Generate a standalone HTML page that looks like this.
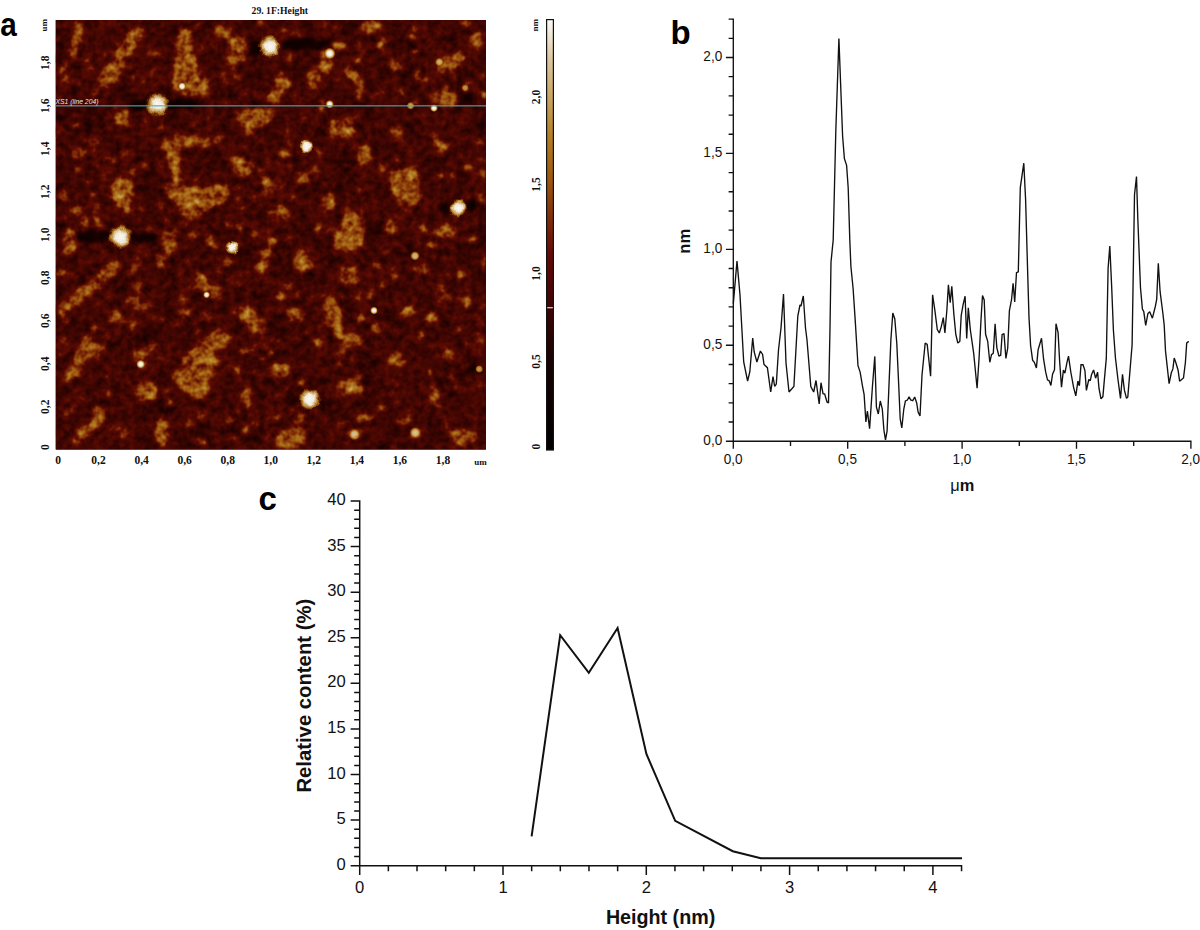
<!DOCTYPE html>
<html><head><meta charset="utf-8"><title>AFM figure</title>
<style>html,body{margin:0;padding:0;background:#fff;width:1200px;height:930px;overflow:hidden}svg{display:block}</style>
</head><body>
<svg width="1200" height="930" viewBox="0 0 1200 930">
<rect width="1200" height="930" fill="#fff"/>
<defs><clipPath id="afmclip"><rect x="55.5" y="20.0" width="430.5" height="429.7"/></clipPath><filter id="wob" x="-5%" y="-5%" width="110%" height="110%" color-interpolation-filters="sRGB"><feTurbulence type="fractalNoise" baseFrequency="0.09" numOctaves="2" seed="7" result="t"/><feDisplacementMap in="SourceGraphic" in2="t" scale="6" xChannelSelector="R" yChannelSelector="G" result="d"/><feGaussianBlur in="d" stdDeviation="2.0"/></filter><filter id="afm" x="0" y="0" width="100%" height="100%" filterUnits="objectBoundingBox" color-interpolation-filters="sRGB"><feTurbulence type="fractalNoise" baseFrequency="0.14" numOctaves="2" seed="11" result="n0"/><feGaussianBlur in="n0" stdDeviation="0.6" result="n"/><feColorMatrix in="n" type="matrix" values="1 0 0 0 0  1 0 0 0 0  1 0 0 0 0  0 0 0 0 1" result="ng"/><feComposite in="SourceGraphic" in2="ng" operator="arithmetic" k1="0.8" k2="0.6" k3="0.02" k4="-0.01" result="h0"/><feTurbulence type="fractalNoise" baseFrequency="0.045" numOctaves="2" seed="3" result="m0"/><feColorMatrix in="m0" type="matrix" values="1 0 0 0 0  1 0 0 0 0  1 0 0 0 0  0 0 0 0 1" result="mg"/><feComposite in="h0" in2="mg" operator="arithmetic" k1="0" k2="1" k3="0.18" k4="-0.09" result="h1"/><feGaussianBlur in="h1" stdDeviation="0.5" result="h"/><feComponentTransfer in="h"><feFuncR type="table" tableValues="0.000 0.011 0.023 0.034 0.045 0.056 0.068 0.079 0.090 0.117 0.143 0.169 0.196 0.222 0.250 0.277 0.305 0.333 0.361 0.400 0.439 0.478 0.512 0.545 0.578 0.609 0.632 0.656 0.679 0.703 0.725 0.748 0.770 0.793 0.814 0.836 0.858 0.886 0.919 0.952 0.984"/><feFuncG type="table" tableValues="0.000 0.001 0.002 0.003 0.004 0.005 0.006 0.007 0.008 0.010 0.012 0.015 0.017 0.019 0.024 0.028 0.033 0.038 0.043 0.081 0.119 0.157 0.201 0.247 0.293 0.337 0.376 0.416 0.455 0.494 0.535 0.575 0.615 0.655 0.693 0.731 0.769 0.817 0.871 0.926 0.980"/><feFuncB type="table" tableValues="0.000 0.000 0.001 0.001 0.002 0.002 0.003 0.003 0.004 0.005 0.005 0.006 0.007 0.008 0.008 0.009 0.010 0.011 0.012 0.015 0.019 0.023 0.032 0.043 0.054 0.066 0.082 0.097 0.113 0.139 0.204 0.270 0.336 0.402 0.468 0.534 0.601 0.684 0.777 0.871 0.965"/><feFuncA type="identity"/></feComponentTransfer></filter><radialGradient id="bdot"><stop offset="0" stop-color="#fffffc"/><stop offset="0.55" stop-color="#fbf8ee"/><stop offset="0.72" stop-color="#f0dca8"/><stop offset="0.86" stop-color="#c8922e" stop-opacity="0.75"/><stop offset="1" stop-color="#9a5010" stop-opacity="0"/></radialGradient><radialGradient id="sdot"><stop offset="0" stop-color="#fffbe8"/><stop offset="0.35" stop-color="#f8eccc"/><stop offset="0.6" stop-color="#e0b868"/><stop offset="0.8" stop-color="#c08028" stop-opacity="0.7"/><stop offset="1" stop-color="#9a5010" stop-opacity="0"/></radialGradient><radialGradient id="hdot"><stop offset="0" stop-color="#ffffff"/><stop offset="0.42" stop-color="#f7f7f7"/><stop offset="0.62" stop-color="#d6d6d6"/><stop offset="0.8" stop-color="#a8a8a8" stop-opacity="0.9"/><stop offset="1" stop-color="#737373" stop-opacity="0"/></radialGradient><filter id="dotf" x="0" y="0" width="100%" height="100%" filterUnits="userSpaceOnUse" color-interpolation-filters="sRGB"><feTurbulence type="fractalNoise" baseFrequency="0.15" numOctaves="2" seed="21" result="t"/><feDisplacementMap in="SourceGraphic" in2="t" scale="5" xChannelSelector="R" yChannelSelector="G" result="d"/><feGaussianBlur in="d" stdDeviation="0.5" result="b"/><feComponentTransfer in="b"><feFuncR type="table" tableValues="0.000 0.011 0.023 0.034 0.045 0.056 0.068 0.079 0.090 0.117 0.143 0.169 0.196 0.222 0.250 0.277 0.305 0.333 0.361 0.400 0.439 0.478 0.512 0.545 0.578 0.609 0.632 0.656 0.679 0.703 0.725 0.748 0.770 0.793 0.814 0.836 0.858 0.886 0.919 0.952 0.984"/><feFuncG type="table" tableValues="0.000 0.001 0.002 0.003 0.004 0.005 0.006 0.007 0.008 0.010 0.012 0.015 0.017 0.019 0.024 0.028 0.033 0.038 0.043 0.081 0.119 0.157 0.201 0.247 0.293 0.337 0.376 0.416 0.455 0.494 0.535 0.575 0.615 0.655 0.693 0.731 0.769 0.817 0.871 0.926 0.980"/><feFuncB type="table" tableValues="0.000 0.000 0.001 0.001 0.002 0.002 0.003 0.003 0.004 0.005 0.005 0.006 0.007 0.008 0.008 0.009 0.010 0.011 0.012 0.015 0.019 0.023 0.032 0.043 0.054 0.066 0.082 0.097 0.113 0.139 0.204 0.270 0.336 0.402 0.468 0.534 0.601 0.684 0.777 0.871 0.965"/></feComponentTransfer></filter><filter id="dotf2" x="0" y="0" width="100%" height="100%" filterUnits="userSpaceOnUse" color-interpolation-filters="sRGB"><feTurbulence type="fractalNoise" baseFrequency="0.15" numOctaves="1" seed="21" result="t"/><feDisplacementMap in="SourceGraphic" in2="t" scale="2" xChannelSelector="R" yChannelSelector="G" result="d"/><feGaussianBlur in="d" stdDeviation="0.6" result="b"/><feComponentTransfer in="b"><feFuncR type="table" tableValues="0.000 0.011 0.023 0.034 0.045 0.056 0.068 0.079 0.090 0.117 0.143 0.169 0.196 0.222 0.250 0.277 0.305 0.333 0.361 0.400 0.439 0.478 0.512 0.545 0.578 0.609 0.632 0.656 0.679 0.703 0.725 0.748 0.770 0.793 0.814 0.836 0.858 0.886 0.919 0.952 0.984"/><feFuncG type="table" tableValues="0.000 0.001 0.002 0.003 0.004 0.005 0.006 0.007 0.008 0.010 0.012 0.015 0.017 0.019 0.024 0.028 0.033 0.038 0.043 0.081 0.119 0.157 0.201 0.247 0.293 0.337 0.376 0.416 0.455 0.494 0.535 0.575 0.615 0.655 0.693 0.731 0.769 0.817 0.871 0.926 0.980"/><feFuncB type="table" tableValues="0.000 0.000 0.001 0.001 0.002 0.002 0.003 0.003 0.004 0.005 0.005 0.006 0.007 0.008 0.008 0.009 0.010 0.011 0.012 0.015 0.019 0.023 0.032 0.043 0.054 0.066 0.082 0.097 0.113 0.139 0.204 0.270 0.336 0.402 0.468 0.534 0.601 0.684 0.777 0.871 0.965"/></feComponentTransfer></filter><radialGradient id="dk"><stop offset="0" stop-color="#000" stop-opacity="1"/><stop offset="1" stop-color="#000" stop-opacity="0"/></radialGradient></defs><g clip-path="url(#afmclip)"><g filter="url(#afm)"><rect x="55.5" y="20.0" width="430.5" height="429.7" fill="#585858"/><g filter="url(#wob)"><circle cx="323.7" cy="338.7" r="2.2" fill="#979797"/><circle cx="374.0" cy="416.3" r="1.2" fill="#898989"/><circle cx="461.6" cy="298.9" r="2.3" fill="#7e7e7e"/><circle cx="257.4" cy="126.0" r="1.9" fill="#8c8c8c"/><circle cx="61.1" cy="113.1" r="1.5" fill="#969696"/><circle cx="385.1" cy="88.6" r="2.2" fill="#7f7f7f"/><circle cx="321.3" cy="74.4" r="1.2" fill="#959595"/><circle cx="145.7" cy="112.6" r="2.4" fill="#959595"/><circle cx="180.0" cy="433.1" r="1.8" fill="#8f8f8f"/><circle cx="143.7" cy="424.3" r="2.0" fill="#989898"/><circle cx="440.3" cy="148.4" r="1.6" fill="#7f7f7f"/><circle cx="118.2" cy="48.0" r="1.6" fill="#8d8d8d"/><circle cx="57.0" cy="311.3" r="1.6" fill="#848484"/><circle cx="407.9" cy="226.6" r="1.6" fill="#898989"/><circle cx="358.9" cy="44.5" r="2.4" fill="#7b7b7b"/><circle cx="378.3" cy="383.0" r="1.2" fill="#939393"/><circle cx="213.1" cy="268.6" r="1.2" fill="#7c7c7c"/><circle cx="133.4" cy="430.4" r="1.4" fill="#929292"/><circle cx="455.7" cy="424.8" r="1.6" fill="#858585"/><circle cx="281.4" cy="353.3" r="1.3" fill="#919191"/><circle cx="398.7" cy="389.4" r="1.2" fill="#979797"/><circle cx="94.8" cy="166.4" r="1.9" fill="#969696"/><circle cx="201.9" cy="417.1" r="1.9" fill="#848484"/><circle cx="191.9" cy="96.3" r="1.3" fill="#7f7f7f"/><circle cx="352.2" cy="448.3" r="1.4" fill="#7c7c7c"/><circle cx="480.3" cy="249.3" r="1.7" fill="#828282"/><circle cx="311.2" cy="375.1" r="1.7" fill="#878787"/><circle cx="79.5" cy="413.6" r="1.2" fill="#8a8a8a"/><circle cx="416.4" cy="76.1" r="2.1" fill="#979797"/><circle cx="326.9" cy="358.6" r="1.3" fill="#888888"/><circle cx="119.8" cy="383.0" r="1.6" fill="#888888"/><circle cx="485.7" cy="386.2" r="2.4" fill="#888888"/><circle cx="265.7" cy="333.5" r="1.8" fill="#838383"/><circle cx="229.3" cy="83.0" r="1.7" fill="#999999"/><circle cx="468.7" cy="289.4" r="1.8" fill="#858585"/><circle cx="93.9" cy="137.0" r="2.1" fill="#959595"/><circle cx="211.1" cy="357.8" r="2.1" fill="#909090"/><circle cx="341.4" cy="346.4" r="1.6" fill="#909090"/><circle cx="176.4" cy="228.7" r="2.1" fill="#909090"/><circle cx="182.0" cy="426.3" r="2.0" fill="#8c8c8c"/><circle cx="60.5" cy="255.0" r="1.5" fill="#8f8f8f"/><circle cx="254.8" cy="370.9" r="2.0" fill="#939393"/><circle cx="205.3" cy="296.8" r="2.1" fill="#949494"/><circle cx="206.2" cy="382.2" r="2.2" fill="#8f8f8f"/><circle cx="475.7" cy="431.0" r="1.8" fill="#8b8b8b"/><circle cx="127.0" cy="379.5" r="2.3" fill="#898989"/><circle cx="353.2" cy="329.2" r="2.1" fill="#808080"/><circle cx="391.4" cy="269.6" r="2.0" fill="#878787"/><circle cx="324.0" cy="352.9" r="2.0" fill="#909090"/><circle cx="67.4" cy="88.8" r="1.7" fill="#8e8e8e"/><circle cx="149.8" cy="314.8" r="2.0" fill="#7c7c7c"/><circle cx="258.5" cy="117.2" r="1.3" fill="#7e7e7e"/><circle cx="192.1" cy="98.0" r="1.4" fill="#7b7b7b"/><circle cx="255.8" cy="183.4" r="1.9" fill="#8c8c8c"/><circle cx="157.9" cy="408.1" r="1.2" fill="#878787"/><circle cx="175.4" cy="196.2" r="1.3" fill="#949494"/><circle cx="216.5" cy="35.5" r="1.9" fill="#7d7d7d"/><circle cx="290.2" cy="165.8" r="1.9" fill="#989898"/><circle cx="407.9" cy="200.1" r="2.2" fill="#8e8e8e"/><circle cx="214.5" cy="81.1" r="1.9" fill="#8c8c8c"/><circle cx="467.6" cy="435.9" r="1.9" fill="#858585"/><circle cx="440.1" cy="20.4" r="1.3" fill="#8c8c8c"/><circle cx="320.3" cy="80.5" r="2.0" fill="#969696"/><circle cx="217.3" cy="205.5" r="1.5" fill="#838383"/><circle cx="474.1" cy="183.2" r="2.4" fill="#969696"/><circle cx="312.0" cy="131.6" r="2.4" fill="#8a8a8a"/><circle cx="234.4" cy="157.1" r="2.4" fill="#898989"/><circle cx="178.8" cy="224.9" r="1.3" fill="#8d8d8d"/><circle cx="246.4" cy="145.9" r="2.1" fill="#949494"/><circle cx="61.2" cy="248.8" r="1.5" fill="#979797"/><circle cx="392.1" cy="125.6" r="1.5" fill="#7f7f7f"/><circle cx="481.2" cy="146.0" r="1.9" fill="#898989"/><circle cx="333.1" cy="279.5" r="2.1" fill="#7e7e7e"/><circle cx="382.9" cy="149.2" r="1.8" fill="#858585"/><circle cx="183.3" cy="247.7" r="1.8" fill="#858585"/><circle cx="376.2" cy="273.9" r="1.2" fill="#828282"/><circle cx="251.6" cy="413.9" r="2.3" fill="#8b8b8b"/><circle cx="61.8" cy="354.5" r="1.7" fill="#8c8c8c"/><circle cx="360.4" cy="291.7" r="1.8" fill="#969696"/><circle cx="221.4" cy="188.4" r="2.2" fill="#808080"/><circle cx="183.1" cy="376.7" r="1.3" fill="#949494"/><circle cx="354.5" cy="206.0" r="1.5" fill="#929292"/><circle cx="447.5" cy="81.3" r="1.8" fill="#8b8b8b"/><circle cx="269.8" cy="162.1" r="1.4" fill="#8c8c8c"/><circle cx="405.0" cy="49.4" r="1.5" fill="#939393"/><circle cx="396.3" cy="305.1" r="1.2" fill="#919191"/><circle cx="476.8" cy="449.0" r="2.0" fill="#7c7c7c"/><circle cx="418.0" cy="114.2" r="2.0" fill="#989898"/><circle cx="362.2" cy="77.8" r="1.6" fill="#969696"/><circle cx="120.0" cy="282.4" r="1.7" fill="#7f7f7f"/><circle cx="323.4" cy="38.7" r="1.3" fill="#868686"/><circle cx="86.5" cy="44.7" r="1.9" fill="#919191"/><circle cx="433.7" cy="77.7" r="1.7" fill="#848484"/><circle cx="313.9" cy="230.4" r="2.3" fill="#868686"/><circle cx="79.5" cy="319.6" r="1.4" fill="#8e8e8e"/><circle cx="273.3" cy="411.2" r="1.9" fill="#8d8d8d"/><circle cx="168.8" cy="257.1" r="1.5" fill="#919191"/><circle cx="278.1" cy="77.5" r="1.5" fill="#868686"/><circle cx="372.7" cy="97.1" r="2.1" fill="#8e8e8e"/><circle cx="92.2" cy="307.0" r="1.3" fill="#7e7e7e"/><circle cx="311.2" cy="122.5" r="2.3" fill="#898989"/><circle cx="194.7" cy="362.2" r="1.2" fill="#919191"/><circle cx="78.6" cy="84.8" r="2.3" fill="#8f8f8f"/><circle cx="151.5" cy="69.9" r="2.4" fill="#8f8f8f"/><circle cx="408.8" cy="80.1" r="1.9" fill="#858585"/><circle cx="156.7" cy="163.2" r="1.9" fill="#858585"/><circle cx="221.6" cy="78.6" r="2.2" fill="#8e8e8e"/><circle cx="401.8" cy="206.2" r="2.2" fill="#8a8a8a"/><circle cx="310.6" cy="266.3" r="2.1" fill="#878787"/><circle cx="97.3" cy="34.3" r="1.4" fill="#7c7c7c"/><circle cx="438.3" cy="226.7" r="2.1" fill="#7a7a7a"/><circle cx="257.9" cy="402.3" r="1.9" fill="#888888"/><circle cx="255.9" cy="62.9" r="1.4" fill="#7f7f7f"/><circle cx="216.8" cy="185.7" r="2.3" fill="#7f7f7f"/><circle cx="164.9" cy="139.2" r="1.4" fill="#838383"/><circle cx="156.7" cy="227.1" r="1.2" fill="#979797"/><circle cx="214.3" cy="423.0" r="2.0" fill="#8f8f8f"/><circle cx="258.6" cy="426.2" r="1.3" fill="#8f8f8f"/><circle cx="180.8" cy="309.8" r="2.1" fill="#7f7f7f"/><circle cx="142.0" cy="30.7" r="1.5" fill="#7d7d7d"/><circle cx="228.2" cy="438.4" r="1.6" fill="#848484"/><circle cx="257.0" cy="141.7" r="2.1" fill="#909090"/><circle cx="125.8" cy="123.4" r="2.0" fill="#979797"/><circle cx="333.5" cy="205.0" r="2.4" fill="#7b7b7b"/><circle cx="81.7" cy="354.8" r="1.7" fill="#7c7c7c"/><circle cx="291.6" cy="445.2" r="1.8" fill="#858585"/><circle cx="95.9" cy="50.6" r="2.3" fill="#898989"/><circle cx="458.3" cy="43.1" r="1.5" fill="#7c7c7c"/><circle cx="226.5" cy="45.8" r="1.5" fill="#878787"/><circle cx="187.2" cy="42.1" r="1.2" fill="#989898"/><circle cx="132.7" cy="238.6" r="1.7" fill="#8b8b8b"/><circle cx="91.8" cy="154.9" r="1.3" fill="#8b8b8b"/><circle cx="452.1" cy="277.1" r="2.2" fill="#818181"/><circle cx="63.0" cy="251.9" r="1.8" fill="#8c8c8c"/><circle cx="217.6" cy="288.6" r="2.1" fill="#969696"/><circle cx="187.9" cy="213.0" r="2.2" fill="#818181"/><circle cx="105.3" cy="153.9" r="1.3" fill="#929292"/><circle cx="408.3" cy="154.4" r="1.4" fill="#7d7d7d"/><circle cx="160.9" cy="56.2" r="1.7" fill="#8c8c8c"/><circle cx="161.1" cy="46.4" r="2.0" fill="#7c7c7c"/><circle cx="141.5" cy="142.9" r="1.6" fill="#7d7d7d"/><circle cx="236.6" cy="154.9" r="2.1" fill="#8b8b8b"/><circle cx="441.3" cy="301.1" r="2.1" fill="#8c8c8c"/><circle cx="245.9" cy="371.0" r="2.0" fill="#989898"/><circle cx="368.9" cy="321.3" r="1.5" fill="#939393"/><circle cx="220.1" cy="76.0" r="1.3" fill="#808080"/><circle cx="168.5" cy="310.4" r="1.5" fill="#7c7c7c"/><circle cx="384.3" cy="259.4" r="1.2" fill="#7c7c7c"/><circle cx="111.5" cy="173.5" r="2.2" fill="#979797"/><circle cx="319.0" cy="119.3" r="1.7" fill="#858585"/><circle cx="197.7" cy="25.3" r="1.9" fill="#949494"/><circle cx="368.4" cy="60.9" r="1.8" fill="#808080"/><circle cx="360.9" cy="211.7" r="2.3" fill="#939393"/><circle cx="106.4" cy="156.2" r="2.3" fill="#898989"/><circle cx="242.4" cy="209.7" r="2.1" fill="#979797"/><circle cx="284.8" cy="436.7" r="1.9" fill="#7e7e7e"/><circle cx="406.0" cy="200.2" r="1.3" fill="#989898"/><circle cx="69.7" cy="267.9" r="1.8" fill="#959595"/><circle cx="224.6" cy="112.7" r="1.5" fill="#818181"/><circle cx="297.6" cy="173.4" r="2.1" fill="#828282"/><circle cx="206.9" cy="126.7" r="2.4" fill="#949494"/><circle cx="421.4" cy="285.6" r="1.7" fill="#7f7f7f"/><circle cx="413.5" cy="230.6" r="1.2" fill="#808080"/><circle cx="98.0" cy="328.4" r="2.3" fill="#808080"/><circle cx="398.6" cy="159.2" r="2.0" fill="#959595"/><circle cx="323.7" cy="363.9" r="1.7" fill="#7b7b7b"/><circle cx="275.8" cy="272.1" r="1.4" fill="#868686"/><circle cx="192.1" cy="31.6" r="1.6" fill="#868686"/><circle cx="260.5" cy="322.2" r="1.7" fill="#989898"/><circle cx="406.6" cy="417.0" r="2.0" fill="#8f8f8f"/><circle cx="286.6" cy="363.2" r="1.6" fill="#8d8d8d"/><circle cx="348.0" cy="244.4" r="1.5" fill="#7d7d7d"/><circle cx="93.1" cy="172.9" r="1.9" fill="#929292"/><circle cx="363.1" cy="151.8" r="2.3" fill="#838383"/><circle cx="363.8" cy="51.0" r="2.1" fill="#8f8f8f"/><circle cx="467.5" cy="405.5" r="2.0" fill="#949494"/><circle cx="373.5" cy="282.5" r="1.5" fill="#8a8a8a"/><circle cx="441.3" cy="122.7" r="2.4" fill="#8b8b8b"/><circle cx="224.9" cy="21.3" r="1.7" fill="#808080"/><circle cx="336.7" cy="406.5" r="2.3" fill="#8d8d8d"/><circle cx="222.0" cy="66.8" r="2.0" fill="#8b8b8b"/><circle cx="363.4" cy="180.7" r="2.3" fill="#818181"/><circle cx="187.1" cy="135.0" r="1.9" fill="#969696"/><circle cx="127.6" cy="291.9" r="2.1" fill="#818181"/><circle cx="82.5" cy="263.2" r="2.2" fill="#959595"/><circle cx="368.9" cy="199.1" r="1.7" fill="#8b8b8b"/><circle cx="445.0" cy="149.9" r="1.5" fill="#8d8d8d"/><circle cx="471.6" cy="100.5" r="1.2" fill="#7e7e7e"/><circle cx="297.7" cy="279.3" r="1.4" fill="#808080"/><circle cx="311.4" cy="297.7" r="2.0" fill="#919191"/><circle cx="81.9" cy="228.3" r="2.2" fill="#989898"/><circle cx="192.6" cy="385.4" r="2.0" fill="#979797"/><circle cx="154.1" cy="319.4" r="2.2" fill="#898989"/><circle cx="98.9" cy="103.2" r="1.4" fill="#7d7d7d"/><circle cx="120.9" cy="284.6" r="1.3" fill="#929292"/><circle cx="372.4" cy="370.8" r="2.2" fill="#909090"/><circle cx="453.3" cy="431.2" r="2.0" fill="#989898"/><circle cx="100.0" cy="64.2" r="1.3" fill="#818181"/><circle cx="216.7" cy="217.1" r="2.0" fill="#919191"/><circle cx="91.6" cy="193.3" r="1.9" fill="#868686"/><circle cx="106.1" cy="276.6" r="1.6" fill="#8f8f8f"/><circle cx="268.8" cy="433.7" r="2.3" fill="#7d7d7d"/><circle cx="382.6" cy="329.9" r="1.6" fill="#7e7e7e"/><circle cx="261.7" cy="172.2" r="2.1" fill="#979797"/><circle cx="220.0" cy="144.9" r="1.8" fill="#909090"/><circle cx="395.2" cy="267.4" r="1.6" fill="#858585"/><circle cx="420.6" cy="243.1" r="1.3" fill="#878787"/><circle cx="157.9" cy="306.3" r="1.3" fill="#838383"/><circle cx="96.8" cy="225.2" r="2.4" fill="#8b8b8b"/><circle cx="221.8" cy="421.3" r="1.3" fill="#858585"/><circle cx="404.5" cy="22.2" r="2.1" fill="#858585"/><circle cx="62.6" cy="127.8" r="1.7" fill="#868686"/><circle cx="278.0" cy="42.8" r="1.5" fill="#989898"/><circle cx="246.1" cy="222.8" r="1.3" fill="#838383"/><circle cx="466.5" cy="315.2" r="1.8" fill="#7c7c7c"/><circle cx="224.6" cy="354.5" r="1.7" fill="#8d8d8d"/><circle cx="444.0" cy="297.2" r="2.0" fill="#7c7c7c"/><circle cx="65.8" cy="350.7" r="1.7" fill="#959595"/><circle cx="411.0" cy="413.3" r="1.7" fill="#999999"/><circle cx="381.1" cy="403.2" r="1.4" fill="#929292"/><circle cx="237.2" cy="437.7" r="2.4" fill="#818181"/><circle cx="236.9" cy="136.4" r="1.8" fill="#838383"/><circle cx="342.4" cy="73.0" r="1.4" fill="#888888"/><circle cx="87.3" cy="183.8" r="2.3" fill="#959595"/><circle cx="140.1" cy="27.9" r="2.2" fill="#989898"/><circle cx="313.3" cy="78.6" r="1.5" fill="#979797"/><circle cx="459.1" cy="33.4" r="1.4" fill="#888888"/><circle cx="170.3" cy="343.9" r="1.6" fill="#929292"/><circle cx="120.9" cy="242.7" r="2.4" fill="#909090"/><circle cx="94.3" cy="67.7" r="2.0" fill="#868686"/><circle cx="214.2" cy="225.3" r="1.9" fill="#989898"/><circle cx="159.2" cy="264.4" r="1.5" fill="#8b8b8b"/><circle cx="370.4" cy="77.4" r="1.8" fill="#909090"/><circle cx="59.0" cy="351.4" r="1.7" fill="#8a8a8a"/><circle cx="318.3" cy="360.7" r="1.3" fill="#8a8a8a"/><circle cx="72.0" cy="185.6" r="1.6" fill="#7b7b7b"/><circle cx="183.7" cy="213.4" r="2.0" fill="#979797"/><circle cx="215.0" cy="247.8" r="2.1" fill="#979797"/><circle cx="464.3" cy="444.6" r="1.6" fill="#7f7f7f"/><circle cx="456.7" cy="53.3" r="1.7" fill="#919191"/><circle cx="283.1" cy="187.0" r="2.3" fill="#848484"/><circle cx="293.0" cy="376.5" r="1.4" fill="#858585"/><circle cx="268.3" cy="263.2" r="1.4" fill="#888888"/><circle cx="81.3" cy="57.8" r="1.6" fill="#7f7f7f"/><circle cx="472.0" cy="133.1" r="1.5" fill="#929292"/><circle cx="374.6" cy="132.6" r="2.2" fill="#8e8e8e"/><circle cx="222.8" cy="290.2" r="1.5" fill="#828282"/><circle cx="432.8" cy="208.5" r="2.3" fill="#808080"/><circle cx="114.6" cy="42.3" r="2.1" fill="#8c8c8c"/><circle cx="59.7" cy="38.6" r="2.2" fill="#8a8a8a"/><circle cx="430.6" cy="37.1" r="1.9" fill="#7e7e7e"/><circle cx="365.9" cy="282.7" r="1.9" fill="#818181"/><circle cx="464.1" cy="67.7" r="1.3" fill="#8f8f8f"/><circle cx="95.5" cy="48.7" r="1.8" fill="#8e8e8e"/><circle cx="439.5" cy="329.8" r="1.3" fill="#8e8e8e"/><circle cx="418.7" cy="71.8" r="2.1" fill="#828282"/><circle cx="184.1" cy="20.6" r="2.1" fill="#8a8a8a"/><circle cx="443.8" cy="220.0" r="1.4" fill="#818181"/><circle cx="168.9" cy="426.8" r="1.4" fill="#7d7d7d"/><circle cx="207.4" cy="54.0" r="1.7" fill="#8d8d8d"/><circle cx="335.6" cy="95.1" r="1.4" fill="#898989"/><circle cx="351.3" cy="212.1" r="1.9" fill="#969696"/><circle cx="117.9" cy="135.1" r="1.8" fill="#8b8b8b"/><circle cx="443.0" cy="258.6" r="2.0" fill="#878787"/><circle cx="393.1" cy="379.2" r="1.6" fill="#7e7e7e"/><circle cx="167.1" cy="173.6" r="2.3" fill="#828282"/><circle cx="326.4" cy="295.3" r="2.3" fill="#7e7e7e"/><circle cx="386.9" cy="164.6" r="1.3" fill="#8e8e8e"/><circle cx="419.0" cy="270.3" r="1.3" fill="#989898"/><circle cx="220.9" cy="293.4" r="2.1" fill="#828282"/><circle cx="231.3" cy="161.5" r="1.3" fill="#7c7c7c"/><circle cx="364.1" cy="196.4" r="2.2" fill="#7c7c7c"/><circle cx="185.3" cy="97.4" r="2.3" fill="#939393"/><circle cx="441.4" cy="237.6" r="1.3" fill="#878787"/><circle cx="152.9" cy="31.6" r="1.9" fill="#838383"/><circle cx="101.9" cy="239.8" r="2.3" fill="#979797"/><circle cx="256.2" cy="64.2" r="2.1" fill="#7e7e7e"/><circle cx="286.9" cy="56.0" r="2.4" fill="#8b8b8b"/><circle cx="243.8" cy="137.0" r="1.9" fill="#989898"/><circle cx="239.7" cy="109.9" r="1.8" fill="#969696"/><circle cx="219.9" cy="292.4" r="2.3" fill="#848484"/><circle cx="404.6" cy="247.3" r="1.4" fill="#7c7c7c"/><circle cx="459.7" cy="220.2" r="1.7" fill="#969696"/><circle cx="302.6" cy="234.9" r="1.5" fill="#919191"/><circle cx="165.8" cy="222.2" r="2.1" fill="#8d8d8d"/><circle cx="113.3" cy="107.1" r="2.0" fill="#919191"/><circle cx="99.7" cy="448.6" r="1.4" fill="#808080"/><circle cx="94.1" cy="211.8" r="1.9" fill="#959595"/><circle cx="125.7" cy="320.2" r="1.3" fill="#8c8c8c"/><circle cx="163.9" cy="173.1" r="1.3" fill="#909090"/><circle cx="108.1" cy="348.4" r="1.6" fill="#8d8d8d"/><circle cx="330.6" cy="230.0" r="2.2" fill="#979797"/><circle cx="176.9" cy="163.4" r="2.3" fill="#7e7e7e"/><circle cx="236.3" cy="198.2" r="2.4" fill="#7e7e7e"/><circle cx="337.5" cy="345.3" r="2.1" fill="#7a7a7a"/><circle cx="461.7" cy="154.3" r="2.2" fill="#8f8f8f"/><circle cx="236.7" cy="379.9" r="2.0" fill="#858585"/><circle cx="370.6" cy="237.1" r="2.1" fill="#8d8d8d"/><circle cx="398.2" cy="88.5" r="1.8" fill="#7a7a7a"/><circle cx="395.9" cy="351.5" r="2.2" fill="#7c7c7c"/><circle cx="285.9" cy="225.7" r="1.3" fill="#818181"/><circle cx="475.0" cy="386.4" r="1.5" fill="#949494"/><circle cx="335.8" cy="185.4" r="2.0" fill="#818181"/><circle cx="173.4" cy="24.3" r="2.0" fill="#8c8c8c"/><circle cx="375.5" cy="236.5" r="1.7" fill="#848484"/><circle cx="372.1" cy="180.2" r="1.9" fill="#929292"/><circle cx="246.9" cy="314.8" r="1.3" fill="#828282"/><circle cx="417.4" cy="83.4" r="1.3" fill="#7b7b7b"/><circle cx="385.3" cy="65.7" r="1.7" fill="#888888"/><circle cx="401.2" cy="224.8" r="1.8" fill="#7b7b7b"/><circle cx="397.9" cy="349.8" r="1.9" fill="#949494"/><circle cx="319.9" cy="327.7" r="2.2" fill="#8d8d8d"/><circle cx="64.2" cy="400.1" r="2.4" fill="#818181"/><circle cx="83.9" cy="166.1" r="1.3" fill="#868686"/><circle cx="93.9" cy="114.6" r="1.2" fill="#888888"/><circle cx="184.7" cy="333.2" r="1.7" fill="#7f7f7f"/><circle cx="465.9" cy="404.4" r="2.0" fill="#818181"/><circle cx="228.8" cy="213.8" r="1.7" fill="#7b7b7b"/><circle cx="251.7" cy="349.9" r="2.0" fill="#959595"/><circle cx="349.5" cy="347.7" r="2.2" fill="#969696"/><circle cx="396.9" cy="198.8" r="2.0" fill="#8f8f8f"/><circle cx="435.5" cy="326.6" r="1.7" fill="#808080"/><circle cx="196.5" cy="127.6" r="2.0" fill="#929292"/><circle cx="138.2" cy="249.2" r="2.2" fill="#868686"/><circle cx="96.3" cy="280.2" r="1.6" fill="#7f7f7f"/><circle cx="179.5" cy="23.0" r="1.4" fill="#878787"/><circle cx="100.7" cy="22.6" r="1.9" fill="#989898"/><circle cx="414.5" cy="160.1" r="2.3" fill="#7d7d7d"/><circle cx="120.3" cy="22.9" r="1.3" fill="#8d8d8d"/><circle cx="381.4" cy="225.3" r="2.2" fill="#888888"/><circle cx="451.0" cy="281.3" r="1.8" fill="#808080"/><circle cx="239.1" cy="209.2" r="2.2" fill="#818181"/><circle cx="182.3" cy="370.9" r="1.3" fill="#8b8b8b"/><circle cx="150.0" cy="305.8" r="1.9" fill="#7d7d7d"/><circle cx="369.9" cy="195.0" r="1.6" fill="#959595"/><circle cx="390.8" cy="153.0" r="2.0" fill="#7e7e7e"/><circle cx="278.9" cy="55.5" r="2.0" fill="#969696"/><circle cx="329.4" cy="37.5" r="1.8" fill="#898989"/><circle cx="246.2" cy="85.0" r="1.5" fill="#888888"/><circle cx="86.1" cy="309.8" r="1.5" fill="#838383"/><circle cx="94.6" cy="150.0" r="2.3" fill="#838383"/><circle cx="96.8" cy="168.6" r="2.3" fill="#7d7d7d"/><circle cx="202.9" cy="109.8" r="2.0" fill="#898989"/><circle cx="97.8" cy="390.5" r="1.6" fill="#8f8f8f"/><circle cx="250.4" cy="394.6" r="1.3" fill="#818181"/><circle cx="178.5" cy="133.6" r="2.2" fill="#8a8a8a"/><circle cx="204.8" cy="237.8" r="2.2" fill="#8c8c8c"/><circle cx="249.8" cy="302.2" r="1.9" fill="#878787"/><circle cx="239.0" cy="76.6" r="1.7" fill="#959595"/><circle cx="187.2" cy="176.9" r="1.9" fill="#8c8c8c"/><circle cx="131.0" cy="211.6" r="2.1" fill="#7c7c7c"/><circle cx="102.3" cy="344.6" r="2.3" fill="#7c7c7c"/><circle cx="90.6" cy="289.2" r="1.5" fill="#8e8e8e"/><circle cx="70.2" cy="216.2" r="1.4" fill="#858585"/><circle cx="354.1" cy="239.2" r="2.2" fill="#949494"/><circle cx="322.2" cy="384.2" r="1.4" fill="#898989"/><circle cx="193.1" cy="288.6" r="1.3" fill="#959595"/><circle cx="215.0" cy="356.8" r="2.3" fill="#979797"/><circle cx="223.5" cy="388.2" r="2.4" fill="#7e7e7e"/><circle cx="377.3" cy="332.5" r="1.7" fill="#838383"/><circle cx="130.1" cy="196.9" r="2.3" fill="#878787"/><circle cx="165.4" cy="286.2" r="1.7" fill="#8d8d8d"/><circle cx="251.2" cy="143.1" r="1.2" fill="#939393"/><circle cx="339.2" cy="124.7" r="1.8" fill="#8c8c8c"/><circle cx="272.3" cy="407.1" r="2.1" fill="#848484"/><circle cx="201.3" cy="282.9" r="1.4" fill="#979797"/><circle cx="75.1" cy="234.6" r="1.5" fill="#8a8a8a"/><circle cx="75.1" cy="116.3" r="2.4" fill="#939393"/><circle cx="150.7" cy="216.0" r="1.2" fill="#7e7e7e"/><circle cx="138.1" cy="442.9" r="1.6" fill="#828282"/><circle cx="83.6" cy="67.2" r="2.4" fill="#919191"/><circle cx="451.7" cy="379.1" r="2.1" fill="#828282"/><circle cx="128.3" cy="136.0" r="1.3" fill="#808080"/><circle cx="365.4" cy="231.0" r="1.2" fill="#848484"/><circle cx="421.2" cy="385.7" r="2.1" fill="#919191"/><circle cx="448.0" cy="259.4" r="1.7" fill="#8c8c8c"/><circle cx="177.1" cy="35.7" r="1.5" fill="#888888"/><circle cx="107.2" cy="54.6" r="1.5" fill="#868686"/><circle cx="467.5" cy="229.3" r="2.2" fill="#919191"/><circle cx="310.5" cy="158.5" r="1.7" fill="#848484"/><circle cx="328.6" cy="387.4" r="2.1" fill="#838383"/><circle cx="119.9" cy="23.8" r="1.9" fill="#818181"/><circle cx="57.9" cy="149.8" r="1.5" fill="#818181"/><circle cx="341.5" cy="271.1" r="1.5" fill="#919191"/><circle cx="144.4" cy="415.9" r="1.3" fill="#8d8d8d"/><circle cx="359.0" cy="334.7" r="1.8" fill="#959595"/><circle cx="326.3" cy="316.8" r="1.3" fill="#808080"/><circle cx="256.0" cy="254.3" r="1.3" fill="#919191"/><circle cx="204.7" cy="224.2" r="1.8" fill="#949494"/><circle cx="185.6" cy="260.5" r="1.9" fill="#8e8e8e"/><circle cx="189.9" cy="139.9" r="1.8" fill="#8d8d8d"/><circle cx="333.0" cy="77.5" r="1.7" fill="#8c8c8c"/><circle cx="139.3" cy="63.9" r="2.3" fill="#7b7b7b"/><circle cx="270.2" cy="146.6" r="1.2" fill="#838383"/><circle cx="125.0" cy="192.0" r="2.3" fill="#7d7d7d"/><circle cx="206.9" cy="318.6" r="1.9" fill="#7b7b7b"/><circle cx="154.0" cy="140.8" r="2.3" fill="#888888"/><circle cx="166.4" cy="226.3" r="1.8" fill="#7f7f7f"/><circle cx="342.7" cy="329.8" r="1.8" fill="#8b8b8b"/><circle cx="387.2" cy="430.9" r="1.9" fill="#7c7c7c"/><circle cx="273.0" cy="304.6" r="1.6" fill="#8f8f8f"/><circle cx="213.8" cy="284.9" r="1.9" fill="#8f8f8f"/><circle cx="453.9" cy="324.1" r="2.1" fill="#909090"/><circle cx="154.8" cy="283.9" r="1.9" fill="#7c7c7c"/><circle cx="380.2" cy="117.4" r="1.8" fill="#8a8a8a"/><circle cx="366.4" cy="348.8" r="1.8" fill="#979797"/><circle cx="246.2" cy="263.4" r="2.4" fill="#848484"/><circle cx="362.9" cy="430.9" r="1.3" fill="#929292"/><circle cx="336.1" cy="251.9" r="2.1" fill="#959595"/><circle cx="118.6" cy="229.1" r="1.9" fill="#909090"/><circle cx="468.1" cy="365.0" r="2.2" fill="#7c7c7c"/><circle cx="239.0" cy="412.5" r="2.3" fill="#929292"/><circle cx="199.1" cy="350.8" r="1.8" fill="#8f8f8f"/><circle cx="329.9" cy="391.8" r="2.1" fill="#989898"/><circle cx="268.0" cy="232.1" r="2.0" fill="#8c8c8c"/><circle cx="76.6" cy="432.2" r="1.6" fill="#8a8a8a"/><circle cx="73.7" cy="101.8" r="2.3" fill="#838383"/><circle cx="184.1" cy="368.9" r="1.5" fill="#8f8f8f"/><circle cx="300.2" cy="405.2" r="1.8" fill="#848484"/><circle cx="167.0" cy="176.3" r="1.2" fill="#7e7e7e"/><circle cx="119.6" cy="155.2" r="2.1" fill="#979797"/><circle cx="208.0" cy="127.3" r="1.6" fill="#8e8e8e"/><circle cx="261.6" cy="70.5" r="1.8" fill="#838383"/><circle cx="117.5" cy="357.4" r="1.3" fill="#888888"/><circle cx="385.2" cy="253.3" r="2.2" fill="#848484"/><circle cx="462.9" cy="38.7" r="2.3" fill="#878787"/><circle cx="56.8" cy="131.5" r="2.4" fill="#909090"/><circle cx="372.9" cy="368.5" r="1.2" fill="#848484"/><circle cx="256.0" cy="410.7" r="2.3" fill="#7f7f7f"/><circle cx="480.6" cy="258.2" r="1.6" fill="#7d7d7d"/><circle cx="239.2" cy="243.7" r="1.7" fill="#848484"/><circle cx="463.5" cy="224.2" r="1.6" fill="#929292"/><circle cx="160.7" cy="201.7" r="1.3" fill="#828282"/><circle cx="484.7" cy="287.0" r="1.8" fill="#8f8f8f"/><circle cx="344.9" cy="244.0" r="1.6" fill="#7f7f7f"/><circle cx="68.2" cy="72.0" r="1.7" fill="#7b7b7b"/><circle cx="345.9" cy="164.9" r="1.5" fill="#848484"/><circle cx="267.7" cy="110.1" r="2.2" fill="#898989"/><circle cx="85.0" cy="56.6" r="2.3" fill="#8c8c8c"/><circle cx="180.9" cy="326.4" r="1.3" fill="#969696"/><circle cx="458.7" cy="305.5" r="1.3" fill="#878787"/><circle cx="415.8" cy="275.0" r="1.5" fill="#828282"/><circle cx="82.9" cy="244.2" r="1.4" fill="#888888"/><circle cx="441.0" cy="407.1" r="1.8" fill="#929292"/><circle cx="113.2" cy="427.3" r="2.2" fill="#898989"/><circle cx="436.9" cy="147.7" r="2.4" fill="#848484"/><circle cx="453.4" cy="379.7" r="2.3" fill="#919191"/><circle cx="87.1" cy="140.1" r="2.0" fill="#969696"/><circle cx="348.6" cy="36.8" r="1.6" fill="#858585"/><circle cx="129.2" cy="116.7" r="1.8" fill="#868686"/><circle cx="170.5" cy="197.1" r="2.3" fill="#8d8d8d"/><circle cx="379.2" cy="420.8" r="1.2" fill="#959595"/><circle cx="96.5" cy="104.3" r="2.1" fill="#919191"/><circle cx="320.2" cy="224.6" r="2.1" fill="#878787"/><circle cx="139.2" cy="114.3" r="1.3" fill="#7c7c7c"/><circle cx="465.3" cy="428.3" r="1.6" fill="#878787"/><circle cx="175.5" cy="355.7" r="1.8" fill="#808080"/><circle cx="436.1" cy="419.1" r="1.3" fill="#888888"/><circle cx="150.6" cy="294.6" r="1.6" fill="#848484"/><circle cx="185.7" cy="281.0" r="1.8" fill="#898989"/><circle cx="348.5" cy="223.4" r="2.3" fill="#888888"/><circle cx="396.3" cy="419.8" r="1.9" fill="#8c8c8c"/><circle cx="395.5" cy="325.9" r="1.4" fill="#878787"/><circle cx="123.0" cy="29.1" r="2.0" fill="#848484"/><circle cx="165.2" cy="31.2" r="1.2" fill="#8f8f8f"/><circle cx="209.6" cy="207.4" r="2.0" fill="#969696"/><circle cx="357.3" cy="114.2" r="2.4" fill="#808080"/><circle cx="305.5" cy="296.7" r="1.5" fill="#969696"/><circle cx="318.1" cy="325.1" r="1.4" fill="#949494"/><circle cx="179.2" cy="285.6" r="2.1" fill="#848484"/><circle cx="169.7" cy="162.0" r="2.4" fill="#8f8f8f"/><circle cx="258.4" cy="261.5" r="2.0" fill="#828282"/><circle cx="88.2" cy="66.9" r="1.9" fill="#8d8d8d"/><circle cx="476.5" cy="286.8" r="2.2" fill="#999999"/><circle cx="269.2" cy="201.2" r="1.8" fill="#868686"/><circle cx="382.7" cy="267.2" r="1.3" fill="#989898"/><circle cx="282.1" cy="341.7" r="1.9" fill="#8c8c8c"/><circle cx="303.5" cy="69.3" r="1.4" fill="#919191"/><circle cx="206.0" cy="75.3" r="2.2" fill="#919191"/><circle cx="384.3" cy="186.3" r="1.4" fill="#929292"/><circle cx="148.3" cy="307.1" r="2.0" fill="#838383"/><circle cx="56.4" cy="273.7" r="2.1" fill="#8c8c8c"/><circle cx="479.3" cy="118.2" r="2.1" fill="#888888"/><circle cx="305.3" cy="149.9" r="1.5" fill="#8b8b8b"/><circle cx="317.0" cy="410.8" r="1.9" fill="#8a8a8a"/><circle cx="335.7" cy="289.8" r="1.7" fill="#838383"/><circle cx="349.2" cy="186.2" r="1.2" fill="#808080"/><circle cx="210.0" cy="315.0" r="2.0" fill="#898989"/><circle cx="406.9" cy="160.3" r="1.6" fill="#919191"/><circle cx="347.9" cy="203.0" r="2.3" fill="#7b7b7b"/><circle cx="286.4" cy="388.8" r="2.3" fill="#808080"/><circle cx="403.0" cy="249.1" r="2.3" fill="#848484"/><circle cx="341.5" cy="295.8" r="2.4" fill="#858585"/><circle cx="223.2" cy="73.6" r="2.0" fill="#7d7d7d"/><circle cx="421.1" cy="82.8" r="1.4" fill="#979797"/><circle cx="270.1" cy="344.3" r="1.6" fill="#828282"/><circle cx="214.2" cy="442.3" r="1.4" fill="#969696"/><circle cx="435.6" cy="312.4" r="1.5" fill="#919191"/><circle cx="445.1" cy="274.8" r="1.5" fill="#8d8d8d"/><circle cx="467.3" cy="273.9" r="1.4" fill="#818181"/><circle cx="326.8" cy="40.6" r="1.2" fill="#868686"/><circle cx="166.3" cy="232.1" r="1.3" fill="#8c8c8c"/><circle cx="346.3" cy="156.2" r="1.9" fill="#8b8b8b"/><circle cx="395.2" cy="267.6" r="2.0" fill="#8c8c8c"/><circle cx="409.8" cy="61.5" r="1.3" fill="#959595"/><circle cx="414.6" cy="23.4" r="2.3" fill="#8d8d8d"/><circle cx="424.0" cy="321.3" r="1.7" fill="#7e7e7e"/><circle cx="384.7" cy="325.1" r="1.8" fill="#838383"/><circle cx="212.3" cy="422.2" r="1.8" fill="#818181"/><circle cx="480.1" cy="440.4" r="1.4" fill="#808080"/><circle cx="369.7" cy="186.2" r="1.8" fill="#8f8f8f"/><circle cx="173.1" cy="275.4" r="1.4" fill="#818181"/><circle cx="290.3" cy="203.8" r="2.3" fill="#7f7f7f"/><circle cx="449.9" cy="132.5" r="1.6" fill="#7e7e7e"/><circle cx="191.6" cy="441.4" r="1.6" fill="#949494"/><circle cx="475.8" cy="318.9" r="1.4" fill="#888888"/><circle cx="127.4" cy="127.3" r="1.6" fill="#7f7f7f"/><circle cx="348.1" cy="244.6" r="1.5" fill="#828282"/><circle cx="116.7" cy="69.1" r="1.7" fill="#7d7d7d"/><circle cx="280.5" cy="129.7" r="2.1" fill="#838383"/><circle cx="424.0" cy="426.2" r="2.3" fill="#818181"/><circle cx="455.4" cy="222.7" r="2.3" fill="#898989"/><circle cx="288.4" cy="131.2" r="2.1" fill="#868686"/><circle cx="436.0" cy="324.0" r="1.7" fill="#7b7b7b"/><circle cx="171.1" cy="199.3" r="1.6" fill="#8c8c8c"/><circle cx="57.8" cy="220.9" r="2.3" fill="#989898"/><circle cx="352.0" cy="315.0" r="1.9" fill="#999999"/><circle cx="395.7" cy="217.8" r="1.8" fill="#979797"/><circle cx="293.0" cy="277.1" r="1.6" fill="#8f8f8f"/><circle cx="265.8" cy="425.4" r="2.4" fill="#999999"/><circle cx="464.8" cy="38.7" r="1.3" fill="#858585"/><circle cx="411.4" cy="259.9" r="1.5" fill="#7d7d7d"/><circle cx="163.2" cy="74.7" r="1.4" fill="#919191"/><circle cx="138.7" cy="91.7" r="1.9" fill="#7e7e7e"/><circle cx="414.3" cy="299.4" r="2.3" fill="#919191"/><circle cx="370.0" cy="134.9" r="1.7" fill="#868686"/><circle cx="224.3" cy="412.0" r="1.7" fill="#939393"/><circle cx="327.0" cy="55.5" r="1.5" fill="#8c8c8c"/><circle cx="395.3" cy="120.2" r="1.5" fill="#868686"/><circle cx="253.1" cy="200.5" r="2.3" fill="#8d8d8d"/><circle cx="175.3" cy="167.9" r="1.8" fill="#7f7f7f"/><circle cx="224.2" cy="47.9" r="2.0" fill="#959595"/><circle cx="442.4" cy="276.6" r="1.7" fill="#8c8c8c"/><circle cx="294.7" cy="95.8" r="1.8" fill="#8a8a8a"/><circle cx="140.5" cy="210.3" r="2.2" fill="#8e8e8e"/><circle cx="197.2" cy="122.5" r="2.0" fill="#8b8b8b"/><circle cx="183.8" cy="222.4" r="1.7" fill="#8e8e8e"/><circle cx="433.6" cy="180.2" r="1.8" fill="#8c8c8c"/><circle cx="342.8" cy="124.6" r="1.5" fill="#979797"/><circle cx="118.1" cy="312.6" r="1.5" fill="#898989"/><circle cx="249.8" cy="122.7" r="1.4" fill="#989898"/><circle cx="72.1" cy="81.3" r="2.1" fill="#868686"/><circle cx="139.5" cy="353.6" r="2.4" fill="#818181"/><circle cx="359.8" cy="190.4" r="2.4" fill="#8d8d8d"/><circle cx="440.7" cy="305.0" r="1.4" fill="#888888"/><circle cx="359.2" cy="85.7" r="1.3" fill="#999999"/><circle cx="453.1" cy="299.6" r="1.3" fill="#909090"/><circle cx="481.2" cy="356.2" r="2.1" fill="#888888"/><circle cx="327.6" cy="418.1" r="1.8" fill="#7d7d7d"/><circle cx="118.0" cy="429.2" r="2.1" fill="#979797"/><circle cx="119.2" cy="65.3" r="2.0" fill="#888888"/><circle cx="254.8" cy="120.0" r="2.1" fill="#929292"/><circle cx="368.0" cy="204.7" r="1.8" fill="#878787"/><circle cx="255.8" cy="160.0" r="1.8" fill="#989898"/><circle cx="400.6" cy="78.1" r="2.0" fill="#939393"/><circle cx="203.9" cy="402.0" r="2.3" fill="#7d7d7d"/><circle cx="324.6" cy="183.6" r="1.8" fill="#8b8b8b"/><circle cx="425.6" cy="291.1" r="2.3" fill="#828282"/><circle cx="398.6" cy="188.3" r="1.4" fill="#939393"/><circle cx="304.0" cy="116.9" r="2.3" fill="#898989"/><circle cx="345.6" cy="443.4" r="1.6" fill="#8b8b8b"/><circle cx="290.7" cy="142.6" r="1.8" fill="#989898"/><circle cx="355.7" cy="134.0" r="2.0" fill="#8d8d8d"/><circle cx="214.2" cy="308.4" r="1.7" fill="#929292"/><circle cx="222.5" cy="374.1" r="1.6" fill="#808080"/><circle cx="197.3" cy="74.0" r="2.2" fill="#999999"/><circle cx="234.7" cy="123.2" r="2.3" fill="#949494"/><circle cx="160.7" cy="151.3" r="1.8" fill="#7e7e7e"/><circle cx="146.3" cy="190.8" r="1.3" fill="#7f7f7f"/><circle cx="315.8" cy="149.2" r="2.3" fill="#989898"/><circle cx="344.0" cy="138.1" r="2.1" fill="#858585"/><circle cx="430.0" cy="202.1" r="2.0" fill="#919191"/><circle cx="358.0" cy="343.4" r="1.6" fill="#7f7f7f"/><circle cx="214.1" cy="431.9" r="1.2" fill="#838383"/><circle cx="188.7" cy="209.2" r="2.2" fill="#808080"/><circle cx="100.4" cy="27.6" r="1.6" fill="#919191"/><circle cx="250.4" cy="297.6" r="1.8" fill="#858585"/><circle cx="230.9" cy="37.6" r="2.3" fill="#919191"/><circle cx="97.5" cy="107.2" r="2.1" fill="#8a8a8a"/><circle cx="377.8" cy="343.0" r="1.4" fill="#949494"/><circle cx="142.1" cy="79.4" r="2.1" fill="#939393"/><circle cx="185.8" cy="185.6" r="2.1" fill="#838383"/><circle cx="247.0" cy="446.4" r="1.4" fill="#979797"/><circle cx="437.5" cy="448.3" r="1.5" fill="#808080"/><circle cx="243.8" cy="93.5" r="2.3" fill="#8c8c8c"/><circle cx="417.9" cy="231.2" r="1.8" fill="#989898"/><circle cx="109.3" cy="116.9" r="2.2" fill="#8c8c8c"/><circle cx="392.2" cy="447.6" r="2.1" fill="#8d8d8d"/><circle cx="379.0" cy="248.7" r="1.5" fill="#848484"/><circle cx="453.6" cy="246.2" r="1.2" fill="#8e8e8e"/><circle cx="483.3" cy="289.0" r="1.8" fill="#888888"/><circle cx="327.0" cy="284.2" r="1.8" fill="#969696"/><circle cx="437.3" cy="356.1" r="2.1" fill="#909090"/><circle cx="140.5" cy="230.8" r="1.5" fill="#818181"/><circle cx="464.5" cy="119.2" r="2.2" fill="#949494"/><circle cx="229.7" cy="30.5" r="1.4" fill="#8e8e8e"/><circle cx="360.9" cy="172.5" r="1.9" fill="#7f7f7f"/><circle cx="338.7" cy="355.9" r="2.1" fill="#8c8c8c"/><circle cx="302.4" cy="20.9" r="1.5" fill="#878787"/><circle cx="86.7" cy="51.6" r="2.3" fill="#8f8f8f"/><circle cx="297.6" cy="316.3" r="2.2" fill="#8e8e8e"/><circle cx="239.3" cy="188.6" r="2.4" fill="#989898"/><circle cx="120.9" cy="371.6" r="2.0" fill="#858585"/><circle cx="354.5" cy="138.0" r="2.1" fill="#8c8c8c"/><circle cx="307.3" cy="44.3" r="2.3" fill="#989898"/><circle cx="383.1" cy="146.0" r="2.1" fill="#7e7e7e"/><circle cx="290.8" cy="168.4" r="1.8" fill="#838383"/><circle cx="86.0" cy="207.0" r="1.5" fill="#808080"/><circle cx="198.2" cy="73.5" r="1.2" fill="#989898"/><circle cx="79.3" cy="403.8" r="1.7" fill="#7e7e7e"/><circle cx="240.2" cy="237.9" r="1.3" fill="#8b8b8b"/><circle cx="58.7" cy="148.3" r="2.1" fill="#949494"/><circle cx="132.1" cy="194.8" r="2.3" fill="#848484"/><circle cx="106.3" cy="126.1" r="2.2" fill="#858585"/><circle cx="342.0" cy="423.0" r="1.9" fill="#808080"/><circle cx="262.5" cy="159.9" r="1.8" fill="#8d8d8d"/><circle cx="475.7" cy="315.9" r="1.8" fill="#939393"/><circle cx="273.8" cy="103.0" r="2.0" fill="#838383"/><circle cx="146.9" cy="187.1" r="1.8" fill="#7b7b7b"/><circle cx="210.8" cy="432.9" r="1.8" fill="#868686"/><circle cx="252.2" cy="320.1" r="1.8" fill="#878787"/><circle cx="305.4" cy="138.4" r="2.0" fill="#878787"/><circle cx="359.2" cy="169.6" r="2.0" fill="#808080"/><circle cx="264.4" cy="231.6" r="1.2" fill="#7e7e7e"/><circle cx="253.7" cy="348.8" r="2.2" fill="#949494"/><circle cx="402.5" cy="435.4" r="1.4" fill="#7f7f7f"/><circle cx="115.2" cy="360.6" r="1.4" fill="#848484"/><circle cx="115.1" cy="410.5" r="1.5" fill="#828282"/><circle cx="311.4" cy="322.1" r="1.2" fill="#8c8c8c"/><circle cx="283.6" cy="258.1" r="1.8" fill="#939393"/><circle cx="409.6" cy="389.9" r="1.6" fill="#7c7c7c"/><circle cx="258.1" cy="31.4" r="2.0" fill="#898989"/><circle cx="377.0" cy="378.1" r="2.1" fill="#909090"/><circle cx="198.8" cy="332.0" r="2.0" fill="#818181"/><circle cx="429.6" cy="223.1" r="1.8" fill="#808080"/><circle cx="413.3" cy="223.6" r="2.1" fill="#949494"/><circle cx="279.0" cy="271.5" r="1.8" fill="#828282"/><circle cx="399.5" cy="415.6" r="1.2" fill="#7b7b7b"/><circle cx="257.8" cy="54.3" r="1.7" fill="#858585"/><circle cx="159.2" cy="353.2" r="1.9" fill="#979797"/><circle cx="139.2" cy="183.5" r="1.9" fill="#929292"/><circle cx="239.7" cy="99.9" r="1.7" fill="#8c8c8c"/><circle cx="471.9" cy="299.8" r="2.2" fill="#949494"/><circle cx="240.0" cy="237.4" r="2.2" fill="#919191"/><circle cx="227.6" cy="101.1" r="2.1" fill="#838383"/><circle cx="169.5" cy="127.8" r="2.0" fill="#8e8e8e"/><circle cx="458.9" cy="273.3" r="1.8" fill="#959595"/><circle cx="115.2" cy="273.1" r="2.4" fill="#858585"/><circle cx="121.0" cy="68.9" r="1.2" fill="#919191"/><circle cx="233.1" cy="372.6" r="2.2" fill="#7b7b7b"/><circle cx="187.5" cy="133.4" r="1.5" fill="#7b7b7b"/><circle cx="165.3" cy="166.0" r="1.7" fill="#8b8b8b"/><circle cx="479.5" cy="66.5" r="1.4" fill="#969696"/><circle cx="179.4" cy="251.5" r="1.6" fill="#969696"/><circle cx="457.7" cy="265.0" r="1.3" fill="#868686"/><circle cx="358.6" cy="263.2" r="1.5" fill="#878787"/><circle cx="82.0" cy="193.4" r="2.2" fill="#868686"/><circle cx="256.2" cy="92.1" r="2.1" fill="#878787"/><circle cx="221.4" cy="352.3" r="1.6" fill="#7d7d7d"/><circle cx="331.9" cy="337.2" r="1.3" fill="#858585"/><circle cx="436.9" cy="238.7" r="1.7" fill="#7e7e7e"/><circle cx="179.6" cy="272.2" r="2.3" fill="#8f8f8f"/><circle cx="472.4" cy="195.1" r="1.3" fill="#858585"/><circle cx="213.2" cy="44.5" r="1.3" fill="#969696"/><circle cx="440.9" cy="77.1" r="1.3" fill="#989898"/><circle cx="127.3" cy="149.6" r="1.5" fill="#818181"/><circle cx="68.9" cy="218.5" r="2.1" fill="#7d7d7d"/><circle cx="267.1" cy="76.8" r="2.1" fill="#969696"/><circle cx="432.1" cy="249.3" r="1.4" fill="#909090"/><circle cx="85.5" cy="353.1" r="1.6" fill="#969696"/><circle cx="178.1" cy="338.1" r="1.8" fill="#828282"/><circle cx="267.0" cy="205.0" r="1.4" fill="#8b8b8b"/><circle cx="284.6" cy="320.8" r="1.6" fill="#8d8d8d"/><circle cx="140.8" cy="244.4" r="1.5" fill="#929292"/><circle cx="137.7" cy="145.0" r="1.3" fill="#848484"/><circle cx="288.5" cy="118.1" r="1.3" fill="#969696"/><circle cx="189.1" cy="112.8" r="1.7" fill="#949494"/><circle cx="376.9" cy="407.9" r="1.9" fill="#858585"/><circle cx="271.3" cy="45.1" r="2.0" fill="#949494"/><circle cx="449.7" cy="376.8" r="2.0" fill="#939393"/><circle cx="181.0" cy="261.5" r="1.4" fill="#979797"/><circle cx="276.0" cy="95.8" r="2.4" fill="#8d8d8d"/><circle cx="146.9" cy="383.4" r="2.0" fill="#8d8d8d"/><circle cx="433.4" cy="155.7" r="1.5" fill="#8c8c8c"/><circle cx="143.0" cy="320.3" r="1.8" fill="#818181"/><circle cx="109.2" cy="89.7" r="1.9" fill="#969696"/><circle cx="398.6" cy="384.5" r="1.9" fill="#939393"/><circle cx="197.7" cy="178.1" r="2.3" fill="#828282"/><circle cx="323.9" cy="263.9" r="1.3" fill="#8c8c8c"/><circle cx="398.7" cy="402.0" r="1.7" fill="#969696"/><circle cx="71.9" cy="409.6" r="2.0" fill="#939393"/><circle cx="248.3" cy="272.4" r="2.2" fill="#818181"/><circle cx="134.4" cy="343.6" r="2.3" fill="#818181"/><circle cx="290.9" cy="238.1" r="1.6" fill="#949494"/><circle cx="177.3" cy="355.0" r="1.7" fill="#7f7f7f"/><circle cx="469.7" cy="83.4" r="1.3" fill="#7b7b7b"/><circle cx="206.5" cy="31.5" r="1.4" fill="#979797"/><circle cx="165.0" cy="327.4" r="1.5" fill="#7b7b7b"/><circle cx="58.5" cy="72.4" r="2.3" fill="#888888"/><circle cx="163.0" cy="40.2" r="2.0" fill="#848484"/><circle cx="133.1" cy="207.8" r="2.1" fill="#858585"/><circle cx="297.1" cy="101.0" r="1.9" fill="#7c7c7c"/><circle cx="452.7" cy="418.9" r="1.9" fill="#898989"/><circle cx="226.5" cy="341.8" r="1.9" fill="#909090"/><circle cx="246.3" cy="191.9" r="2.1" fill="#808080"/><circle cx="202.7" cy="123.3" r="1.4" fill="#959595"/><circle cx="189.9" cy="336.6" r="1.3" fill="#979797"/><circle cx="257.3" cy="339.7" r="1.3" fill="#8d8d8d"/><circle cx="405.0" cy="144.2" r="1.3" fill="#868686"/><circle cx="386.7" cy="347.4" r="1.3" fill="#848484"/><circle cx="449.6" cy="144.0" r="1.3" fill="#959595"/><circle cx="408.4" cy="211.5" r="2.0" fill="#919191"/><circle cx="415.7" cy="101.3" r="2.1" fill="#979797"/><circle cx="395.1" cy="244.3" r="1.7" fill="#989898"/><circle cx="483.1" cy="365.8" r="1.8" fill="#969696"/><circle cx="431.9" cy="236.7" r="1.4" fill="#8d8d8d"/><circle cx="113.5" cy="163.9" r="1.9" fill="#8a8a8a"/><circle cx="332.8" cy="372.6" r="2.3" fill="#848484"/><circle cx="466.3" cy="158.6" r="1.6" fill="#929292"/><circle cx="475.6" cy="237.9" r="2.2" fill="#949494"/><circle cx="191.1" cy="285.3" r="2.3" fill="#7b7b7b"/><circle cx="108.9" cy="394.9" r="1.9" fill="#878787"/><circle cx="397.0" cy="210.7" r="1.4" fill="#858585"/><circle cx="382.9" cy="295.7" r="1.8" fill="#7b7b7b"/><circle cx="484.5" cy="53.9" r="1.5" fill="#939393"/><circle cx="459.2" cy="315.6" r="1.7" fill="#919191"/><circle cx="343.1" cy="268.5" r="2.1" fill="#8b8b8b"/><circle cx="287.2" cy="131.0" r="2.1" fill="#7e7e7e"/><circle cx="96.4" cy="290.5" r="1.3" fill="#959595"/><circle cx="138.5" cy="220.7" r="1.5" fill="#898989"/><circle cx="320.8" cy="104.6" r="1.9" fill="#989898"/><circle cx="119.9" cy="113.9" r="1.4" fill="#7e7e7e"/><circle cx="60.8" cy="432.0" r="2.4" fill="#7c7c7c"/><circle cx="414.2" cy="268.8" r="1.4" fill="#959595"/><circle cx="105.5" cy="295.1" r="2.0" fill="#909090"/><circle cx="157.4" cy="84.2" r="2.0" fill="#838383"/><circle cx="316.2" cy="337.8" r="1.2" fill="#919191"/><circle cx="476.9" cy="193.3" r="1.9" fill="#848484"/><circle cx="434.4" cy="115.5" r="1.3" fill="#8a8a8a"/><circle cx="246.8" cy="265.0" r="1.4" fill="#979797"/><circle cx="285.6" cy="187.1" r="2.1" fill="#7c7c7c"/><circle cx="452.0" cy="378.6" r="1.5" fill="#888888"/><circle cx="72.3" cy="360.6" r="2.4" fill="#8d8d8d"/><circle cx="476.7" cy="222.9" r="2.2" fill="#949494"/><circle cx="454.0" cy="217.5" r="1.8" fill="#7b7b7b"/><circle cx="465.0" cy="57.8" r="1.9" fill="#8d8d8d"/><circle cx="130.5" cy="170.6" r="1.6" fill="#7b7b7b"/><circle cx="227.7" cy="184.0" r="2.1" fill="#909090"/><circle cx="463.6" cy="394.2" r="1.5" fill="#8d8d8d"/><circle cx="353.7" cy="359.0" r="1.4" fill="#858585"/><circle cx="319.9" cy="155.4" r="2.3" fill="#878787"/><circle cx="360.2" cy="49.4" r="2.3" fill="#989898"/><circle cx="470.9" cy="166.6" r="2.2" fill="#989898"/><circle cx="101.6" cy="51.9" r="2.0" fill="#999999"/><circle cx="68.7" cy="380.0" r="2.0" fill="#898989"/><circle cx="116.9" cy="237.9" r="1.8" fill="#818181"/><circle cx="443.0" cy="337.9" r="1.4" fill="#8d8d8d"/><circle cx="313.0" cy="423.2" r="2.4" fill="#969696"/><circle cx="78.9" cy="201.0" r="1.4" fill="#919191"/><circle cx="91.0" cy="376.0" r="1.9" fill="#8e8e8e"/><circle cx="462.3" cy="393.4" r="2.1" fill="#8e8e8e"/><circle cx="290.9" cy="242.6" r="1.2" fill="#808080"/><circle cx="352.0" cy="198.3" r="1.7" fill="#949494"/><circle cx="221.8" cy="332.8" r="2.2" fill="#949494"/><circle cx="156.5" cy="281.1" r="1.8" fill="#8c8c8c"/><circle cx="92.7" cy="101.6" r="1.5" fill="#929292"/><circle cx="392.7" cy="184.5" r="1.9" fill="#888888"/><circle cx="286.8" cy="134.6" r="1.6" fill="#989898"/><circle cx="436.4" cy="72.1" r="1.3" fill="#959595"/><circle cx="246.4" cy="295.0" r="1.9" fill="#8d8d8d"/><circle cx="445.5" cy="86.0" r="2.2" fill="#828282"/><circle cx="88.2" cy="147.6" r="1.8" fill="#939393"/><circle cx="305.3" cy="436.8" r="1.4" fill="#868686"/><circle cx="302.5" cy="273.9" r="2.0" fill="#8a8a8a"/><circle cx="98.9" cy="356.0" r="2.2" fill="#7d7d7d"/><circle cx="405.5" cy="22.5" r="2.0" fill="#8d8d8d"/><circle cx="183.5" cy="58.5" r="1.5" fill="#8e8e8e"/><circle cx="285.3" cy="369.6" r="1.4" fill="#8d8d8d"/><circle cx="186.2" cy="38.3" r="1.4" fill="#7e7e7e"/><circle cx="124.1" cy="36.2" r="2.4" fill="#858585"/><circle cx="381.6" cy="201.4" r="1.8" fill="#828282"/><circle cx="462.1" cy="110.9" r="2.4" fill="#929292"/><circle cx="427.4" cy="61.8" r="2.4" fill="#8e8e8e"/><circle cx="304.9" cy="263.8" r="1.7" fill="#989898"/><circle cx="477.8" cy="429.2" r="1.4" fill="#8b8b8b"/><circle cx="357.0" cy="98.8" r="2.3" fill="#919191"/><circle cx="107.4" cy="147.5" r="2.0" fill="#959595"/><circle cx="485.2" cy="138.7" r="2.2" fill="#8c8c8c"/><circle cx="211.4" cy="123.2" r="1.3" fill="#7b7b7b"/><circle cx="240.7" cy="72.0" r="1.4" fill="#848484"/><circle cx="114.0" cy="106.7" r="1.5" fill="#989898"/><circle cx="238.0" cy="285.3" r="1.8" fill="#989898"/><circle cx="411.1" cy="418.1" r="2.2" fill="#919191"/><circle cx="432.7" cy="162.7" r="1.9" fill="#858585"/><circle cx="453.9" cy="135.1" r="2.4" fill="#828282"/><circle cx="201.8" cy="339.1" r="1.9" fill="#818181"/><circle cx="110.2" cy="396.4" r="1.4" fill="#8a8a8a"/><circle cx="416.0" cy="228.7" r="1.8" fill="#7f7f7f"/><circle cx="458.4" cy="278.5" r="2.0" fill="#868686"/><circle cx="361.9" cy="182.8" r="1.4" fill="#858585"/><circle cx="383.4" cy="391.2" r="1.8" fill="#8f8f8f"/><circle cx="457.8" cy="299.3" r="2.4" fill="#828282"/><circle cx="431.1" cy="342.6" r="1.9" fill="#8d8d8d"/><circle cx="127.8" cy="27.2" r="1.2" fill="#969696"/><circle cx="226.9" cy="278.6" r="1.7" fill="#959595"/><circle cx="372.8" cy="180.8" r="2.0" fill="#818181"/><circle cx="461.5" cy="88.8" r="2.3" fill="#8b8b8b"/><circle cx="119.0" cy="442.7" r="1.4" fill="#8f8f8f"/><circle cx="167.4" cy="77.5" r="2.1" fill="#969696"/><circle cx="439.5" cy="309.2" r="2.0" fill="#7f7f7f"/><circle cx="485.2" cy="160.8" r="2.0" fill="#7b7b7b"/><circle cx="191.7" cy="244.6" r="1.8" fill="#878787"/><circle cx="220.3" cy="28.2" r="2.0" fill="#858585"/><circle cx="104.0" cy="178.3" r="2.0" fill="#919191"/><circle cx="234.4" cy="69.9" r="2.0" fill="#8d8d8d"/><circle cx="263.7" cy="436.7" r="1.6" fill="#8a8a8a"/><circle cx="68.5" cy="77.1" r="1.4" fill="#808080"/><circle cx="130.7" cy="66.6" r="2.3" fill="#8c8c8c"/><circle cx="266.3" cy="261.4" r="1.5" fill="#959595"/><circle cx="372.3" cy="203.4" r="1.2" fill="#7a7a7a"/><circle cx="70.7" cy="331.9" r="1.2" fill="#888888"/><circle cx="278.7" cy="179.3" r="1.6" fill="#979797"/><circle cx="466.3" cy="344.4" r="1.8" fill="#989898"/><circle cx="357.7" cy="119.3" r="1.4" fill="#7f7f7f"/><circle cx="100.2" cy="187.5" r="1.9" fill="#818181"/><circle cx="90.6" cy="164.8" r="1.7" fill="#959595"/><circle cx="439.2" cy="373.1" r="1.5" fill="#949494"/><circle cx="176.4" cy="271.5" r="1.8" fill="#828282"/><circle cx="288.4" cy="133.1" r="2.2" fill="#828282"/><circle cx="392.0" cy="100.9" r="1.2" fill="#888888"/><circle cx="435.1" cy="292.9" r="1.5" fill="#8a8a8a"/><circle cx="198.1" cy="304.7" r="1.5" fill="#808080"/><circle cx="485.6" cy="36.7" r="1.4" fill="#848484"/><circle cx="198.6" cy="258.0" r="1.8" fill="#7f7f7f"/><circle cx="412.7" cy="324.8" r="1.4" fill="#808080"/><circle cx="103.7" cy="239.7" r="2.0" fill="#909090"/><circle cx="158.1" cy="391.9" r="2.3" fill="#898989"/><circle cx="107.1" cy="94.7" r="2.1" fill="#7c7c7c"/><circle cx="324.3" cy="327.8" r="1.2" fill="#7f7f7f"/><circle cx="159.2" cy="208.3" r="2.2" fill="#939393"/><circle cx="223.0" cy="25.1" r="1.8" fill="#808080"/><circle cx="180.0" cy="420.4" r="1.5" fill="#868686"/><circle cx="344.9" cy="420.7" r="1.3" fill="#8c8c8c"/><circle cx="340.5" cy="74.2" r="1.3" fill="#858585"/><circle cx="201.4" cy="320.1" r="2.4" fill="#8f8f8f"/><circle cx="240.5" cy="448.4" r="2.3" fill="#888888"/><circle cx="257.9" cy="242.4" r="1.3" fill="#8e8e8e"/><circle cx="362.2" cy="224.4" r="1.9" fill="#969696"/><circle cx="323.2" cy="316.0" r="2.3" fill="#919191"/><circle cx="252.6" cy="431.2" r="2.3" fill="#7d7d7d"/><circle cx="486.0" cy="91.6" r="2.3" fill="#8e8e8e"/><circle cx="391.7" cy="168.8" r="1.5" fill="#808080"/><circle cx="107.8" cy="69.0" r="1.4" fill="#939393"/><circle cx="287.1" cy="388.9" r="2.4" fill="#888888"/><circle cx="131.5" cy="405.2" r="1.3" fill="#8a8a8a"/><circle cx="419.2" cy="73.6" r="1.5" fill="#8e8e8e"/><circle cx="97.4" cy="391.8" r="2.1" fill="#8b8b8b"/><circle cx="390.2" cy="80.0" r="2.2" fill="#8b8b8b"/><circle cx="220.6" cy="369.8" r="1.7" fill="#7c7c7c"/><circle cx="356.2" cy="35.6" r="1.9" fill="#818181"/><circle cx="232.6" cy="200.2" r="2.0" fill="#8e8e8e"/><circle cx="207.0" cy="118.4" r="2.1" fill="#7c7c7c"/><circle cx="306.8" cy="332.4" r="2.0" fill="#7b7b7b"/><circle cx="91.0" cy="296.0" r="2.1" fill="#8e8e8e"/><circle cx="479.5" cy="320.9" r="1.7" fill="#989898"/><circle cx="157.8" cy="67.8" r="1.7" fill="#7b7b7b"/><circle cx="299.9" cy="249.4" r="1.4" fill="#8d8d8d"/><circle cx="257.6" cy="320.5" r="2.1" fill="#939393"/><circle cx="349.8" cy="62.8" r="1.9" fill="#8f8f8f"/><circle cx="139.6" cy="179.7" r="1.8" fill="#838383"/><circle cx="91.0" cy="142.8" r="1.7" fill="#929292"/><circle cx="479.9" cy="383.5" r="2.3" fill="#989898"/><circle cx="275.9" cy="285.9" r="1.2" fill="#909090"/><circle cx="415.5" cy="168.5" r="1.9" fill="#7d7d7d"/><circle cx="459.0" cy="204.2" r="1.8" fill="#818181"/><circle cx="430.3" cy="429.6" r="1.7" fill="#8a8a8a"/><circle cx="179.0" cy="322.0" r="1.9" fill="#949494"/><circle cx="63.1" cy="236.6" r="2.4" fill="#7b7b7b"/><circle cx="324.6" cy="181.6" r="1.3" fill="#848484"/><circle cx="470.0" cy="112.2" r="1.8" fill="#959595"/><circle cx="102.6" cy="29.6" r="1.9" fill="#8d8d8d"/><circle cx="71.7" cy="380.1" r="2.1" fill="#8d8d8d"/><circle cx="160.1" cy="416.8" r="1.5" fill="#999999"/><circle cx="292.8" cy="410.5" r="1.9" fill="#8d8d8d"/><circle cx="460.9" cy="208.0" r="1.6" fill="#989898"/><circle cx="483.5" cy="74.9" r="2.2" fill="#929292"/><circle cx="146.0" cy="120.3" r="1.3" fill="#949494"/><circle cx="90.4" cy="379.5" r="2.2" fill="#999999"/><circle cx="103.9" cy="368.2" r="1.3" fill="#7e7e7e"/><circle cx="419.7" cy="80.4" r="2.1" fill="#999999"/><polygon fill="#939393" points="76.8,21.6 83.8,23.1 80.7,38.7 78.4,51.2 73.7,57.4 68.3,54.3 70.6,43.4 73.7,32.5"/><polygon fill="#9c9c9c" points="129.8,29.4 142.3,27.8 144.6,37.1 136.1,44.9 128.3,55.9 123.6,65.2 117.4,77.7 106.5,87 97.1,85.5 100.2,76.1 108,65.2 114.2,54.3 120.5,44.9 125.2,35.6"/><polygon fill="#9c9c9c" points="179.7,29.4 190.6,29.4 192.2,43.4 195.3,60.5 200,71.5 200,94.8 192.2,98 179.7,94.8 171.9,85.5 173.5,71.5 178.2,55.9 175,43.4"/><polygon fill="#9c9c9c" points="215.1,26.2 224.5,26.2 232.3,37.1 244.8,38.7 249.5,48.1 244.8,57.4 238.5,66.8 229.2,65.2 224.5,55.9 229.2,46.5 222.9,37.1 216.7,32.5"/><polygon fill="#9c9c9c" points="279.1,71.5 286.9,77.7 294.7,80.8 290,88.6 282.2,94.8 280.6,104.2 265,104.2 266.6,93.3 272.8,85.5 276,77.7"/><polygon fill="#959595" points="235.4,110.9 249.5,108.9 260.4,107.3 272.8,110.4 276,119.8 266.6,124.5 254.1,129.1 251,135.4 244.8,132.3 243.2,122.9 235.4,119.8"/><polygon fill="#9c9c9c" points="345.1,69.9 356,68.3 360.7,76.1 363.8,85.5 368.5,88.6 363.8,93.3 360.7,101.1 357.6,99.5 356,85.5 349.8,79.2 345.1,76.1"/><polygon fill="#9c9c9c" points="438.7,60.5 451.1,54.3 462,51.2 466.7,55.9 460.5,62.1 454.3,69.9 443.3,73 437.1,66.8"/><polygon fill="#9c9c9c" points="430.9,133.8 438.7,132.3 443.3,140 449.6,149.4 444.9,155.6 438.7,154.1 434,144.7 429.3,138.5"/><polygon fill="#9c9c9c" points="120.5,176 131.4,180.7 134.5,193.2 129.8,202.5 134.5,213.4 126.7,215 122,207.2 114.2,205.7 109.6,197.9 111.1,185.4"/><polygon fill="#9c9c9c" points="160,141 172,139 185,138 198,136 211,137 216,143 210,147 198,145 185,147 172,149 162,151"/><polygon fill="#9c9c9c" points="166,147 176,146 181,160 184,172 183,182 175,184 171,172 167,160"/><polygon fill="#9c9c9c" points="163,182 175,185 187,187 203,190 214,186 222,183 231,186 230,196 222,202 210,207 203,215 193,221 185,216 179,207 172,197 165,191"/><polygon fill="#989898" points="116,257 123,264 110,278 96,290 80,302 66,314 58,318 57,306 70,296 86,283 100,271"/><polygon fill="#9c9c9c" points="233.9,162 252.6,162 254.1,171.4 244.8,179.1 238.5,174.5 232.3,168.2"/><polygon fill="#9c9c9c" points="257.2,169.8 263.5,172.9 269.7,180.7 276,188.5 271.3,193.2 263.5,191.6 261.9,183.8 257.2,177.6"/><polygon fill="#9c9c9c" points="269.7,238.4 276,241.5 271.3,252.4 268.2,261.8 265,271.1 261.9,277.4 257.2,274.3 255.7,264.9 261.9,254 266.6,244.6"/><polygon fill="#9c9c9c" points="198,274.3 205.8,275.8 212,286.7 223,296 221.4,302.3 212,300.8 204.2,293 198,286.7"/><polygon fill="#9c9c9c" points="391.9,171.4 404.4,166.7 415.3,168.2 419.2,174.5 418.4,193.2 416.8,207.2 407.5,204.1 395,199.4 388.8,188.5 388.8,177.6"/><polygon fill="#9c9c9c" points="345.1,211.9 354.5,211.9 363.8,219.7 365.4,232.2 363.8,243 356,249.3 348.2,255.5 342,252.4 342,218.1"/><polygon fill="#989898" points="86.2,333.1 95.5,344 106.5,348.7 101.8,354.9 86.2,359.6 83.1,370.5 76.8,376.7 69,384.5 62.8,379.8 64.4,370.5 72.2,364.2 73.7,354.9 78.4,347.1 83.1,339.3"/><polygon fill="#939393" points="134.5,350.2 145.4,345.5 154.8,340.9 157.9,347.1 148.5,354.9 147,367.4 136.1,367.4 133,358"/><polygon fill="#959595" points="184.4,354.9 192.2,347.1 200,342.4 205.8,339.3 212,331.5 224.5,326.8 230.7,333.1 227.6,342.4 218.3,350.2 219.8,361.1 213.6,370.5 212,386.1 207.4,398.5 198,398.5 192.2,397 179.7,389.2 171.9,379.8 170.4,372 178.2,367.4"/><polygon fill="#989898" points="95.5,404.8 106.5,411 104.9,420.4 95.5,429.7 86.2,439.1 79.9,445.3 70.6,445.3 75.3,432.8 86.2,423.5 92.4,414.1"/><polygon fill="#9c9c9c" points="233.9,308.1 249.5,305 257.2,314.4 266.6,320.6 263.5,331.5 252.6,331.5 244.8,323.7 237,317.5 232.3,312.8"/><polygon fill="#9c9c9c" points="327.4,305 338.3,305 343,314.4 343,340.9 335.2,337.7 330.5,328.4 325.8,317.5"/><polygon fill="#959595" points="297.8,411 304,414.1 302.5,429.7 307.1,440.6 297.8,448.4 285.3,450 272.8,445.3 276,434.4 288.4,428.2 294.7,420.4"/><polygon fill="#9c9c9c" points="342,326.8 351.4,331.5 362.3,336.2 363.8,344 354.5,342.4 342,342.4"/><ellipse cx="64" cy="74" rx="6" ry="10" fill="#818181"/><ellipse cx="122.8" cy="118" rx="8" ry="9" fill="#9c9c9c"/><ellipse cx="78.4" cy="153.3" rx="8" ry="5" fill="#959595"/><ellipse cx="155.5" cy="52.5" rx="8" ry="4" fill="#818181"/><ellipse cx="76.8" cy="125.2" rx="3" ry="3" fill="#9a9a9a"/><ellipse cx="94.8" cy="93.3" rx="3" ry="3" fill="#9a9a9a"/><ellipse cx="86.2" cy="61.3" rx="2.5" ry="2.5" fill="#9a9a9a"/><ellipse cx="97.1" cy="140" rx="3" ry="3" fill="#9a9a9a"/><ellipse cx="126.7" cy="152.5" rx="3" ry="3" fill="#9a9a9a"/><ellipse cx="143.1" cy="132.3" rx="3" ry="3" fill="#9a9a9a"/><ellipse cx="161" cy="126" rx="4" ry="4" fill="#9f9f9f"/><ellipse cx="175.8" cy="136.2" rx="3" ry="3" fill="#9a9a9a"/><ellipse cx="148.5" cy="53.5" rx="3" ry="3" fill="#959595"/><ellipse cx="161" cy="53.5" rx="3" ry="3" fill="#959595"/><ellipse cx="133" cy="79.2" rx="3" ry="3" fill="#959595"/><ellipse cx="114.2" cy="22.3" rx="3" ry="3" fill="#9a9a9a"/><ellipse cx="116.6" cy="159.5" rx="3" ry="3" fill="#9a9a9a"/><ellipse cx="314" cy="80" rx="7" ry="10" fill="#9c9c9c"/><ellipse cx="326" cy="62" rx="8" ry="11" fill="#9c9c9c"/><ellipse cx="337.5" cy="45" rx="5.5" ry="6.5" fill="#959595"/><ellipse cx="204" cy="88" rx="6.5" ry="9.5" fill="#959595"/><ellipse cx="336" cy="128" rx="7" ry="10" fill="#989898"/><ellipse cx="322" cy="106" rx="5.5" ry="7" fill="#959595"/><ellipse cx="205.8" cy="141.6" rx="8" ry="3.5" fill="#939393"/><ellipse cx="236.2" cy="160.3" rx="8.6" ry="5" fill="#939393"/><ellipse cx="285.3" cy="154" rx="4" ry="4" fill="#9a9a9a"/><ellipse cx="265" cy="144.7" rx="3" ry="3" fill="#959595"/><ellipse cx="291.5" cy="57.4" rx="3" ry="3" fill="#959595"/><ellipse cx="297.8" cy="34" rx="5" ry="4" fill="#939393"/><ellipse cx="285.3" cy="31" rx="3" ry="3" fill="#959595"/><ellipse cx="335.2" cy="27.8" rx="3" ry="3" fill="#959595"/><ellipse cx="218.3" cy="138.5" rx="3" ry="3" fill="#9a9a9a"/><ellipse cx="201" cy="49.6" rx="3" ry="3" fill="#959595"/><ellipse cx="260.4" cy="21.6" rx="3" ry="3" fill="#959595"/><ellipse cx="235.4" cy="77.7" rx="3" ry="3" fill="#959595"/><ellipse cx="371.5" cy="27" rx="11" ry="7" fill="#9c9c9c"/><ellipse cx="381.7" cy="44" rx="5.5" ry="5.5" fill="#9d9d9d"/><ellipse cx="394" cy="65" rx="6" ry="6" fill="#9d9d9d"/><ellipse cx="477" cy="40" rx="6" ry="9" fill="#9c9c9c"/><ellipse cx="446" cy="98" rx="13" ry="9" fill="#959595"/><ellipse cx="347" cy="128" rx="7" ry="10" fill="#9a9a9a"/><ellipse cx="396.5" cy="133" rx="5" ry="8" fill="#989898"/><ellipse cx="365" cy="155" rx="8" ry="10" fill="#989898"/><ellipse cx="416" cy="27.8" rx="4" ry="4" fill="#9d9d9d"/><ellipse cx="412.2" cy="35.6" rx="4" ry="2.5" fill="#9d9d9d"/><ellipse cx="415.3" cy="52.7" rx="3" ry="3" fill="#9a9a9a"/><ellipse cx="356" cy="60.5" rx="3" ry="3" fill="#9d9d9d"/><ellipse cx="343.6" cy="46.5" rx="4" ry="4" fill="#9a9a9a"/><ellipse cx="454.3" cy="79.2" rx="3" ry="3" fill="#9a9a9a"/><ellipse cx="465.2" cy="87.8" rx="3" ry="3" fill="#a4a4a4"/><ellipse cx="479.2" cy="35.6" rx="3" ry="3" fill="#9a9a9a"/><ellipse cx="466.7" cy="23.1" rx="4" ry="4" fill="#9a9a9a"/><ellipse cx="379.4" cy="90.2" rx="3" ry="3" fill="#959595"/><ellipse cx="401.2" cy="93.3" rx="3" ry="3" fill="#959595"/><ellipse cx="426.2" cy="77.7" rx="3" ry="3" fill="#959595"/><ellipse cx="479.2" cy="143.2" rx="4" ry="4" fill="#9a9a9a"/><ellipse cx="482.3" cy="94.8" rx="4" ry="4" fill="#959595"/><ellipse cx="70.5" cy="240.7" rx="8" ry="13" fill="#9c9c9c"/><ellipse cx="169" cy="242" rx="8" ry="12" fill="#9c9c9c"/><ellipse cx="161" cy="261" rx="6" ry="8" fill="#989898"/><ellipse cx="62.7" cy="195.5" rx="5" ry="7" fill="#939393"/><ellipse cx="77" cy="210" rx="5" ry="5" fill="#989898"/><ellipse cx="132" cy="301" rx="10" ry="6" fill="#959595"/><ellipse cx="94" cy="194.7" rx="4" ry="4" fill="#9a9a9a"/><ellipse cx="98.6" cy="208.8" rx="3" ry="3" fill="#959595"/><ellipse cx="84.6" cy="221.2" rx="4" ry="4" fill="#9a9a9a"/><ellipse cx="97.1" cy="221.2" rx="3" ry="3" fill="#9a9a9a"/><ellipse cx="100.2" cy="224.4" rx="3" ry="3" fill="#959595"/><ellipse cx="148.5" cy="230.6" rx="4" ry="4" fill="#9a9a9a"/><ellipse cx="167.3" cy="222.8" rx="3" ry="3" fill="#959595"/><ellipse cx="136" cy="260.2" rx="4" ry="4" fill="#9a9a9a"/><ellipse cx="133" cy="271" rx="4" ry="4" fill="#9a9a9a"/><ellipse cx="103.3" cy="255.5" rx="3" ry="3" fill="#959595"/><ellipse cx="62.8" cy="271" rx="4" ry="4" fill="#9a9a9a"/><ellipse cx="137.6" cy="288.3" rx="4" ry="4" fill="#9a9a9a"/><ellipse cx="193.8" cy="235.3" rx="4" ry="4" fill="#9f9f9f"/><ellipse cx="198.4" cy="280.5" rx="3" ry="3" fill="#959595"/><ellipse cx="182.8" cy="297.6" rx="4" ry="4" fill="#9a9a9a"/><ellipse cx="162.6" cy="208.8" rx="3" ry="3" fill="#959595"/><ellipse cx="142.3" cy="204" rx="3" ry="3" fill="#959595"/><ellipse cx="104.9" cy="174.5" rx="3" ry="3" fill="#959595"/><ellipse cx="143.9" cy="165" rx="3" ry="3" fill="#959595"/><ellipse cx="133" cy="171.4" rx="3" ry="3" fill="#959595"/><ellipse cx="278" cy="213" rx="10" ry="9" fill="#989898"/><ellipse cx="304" cy="178.5" rx="6.5" ry="5.5" fill="#a2a2a2"/><ellipse cx="328" cy="202" rx="7" ry="8" fill="#9d9d9d"/><ellipse cx="293.8" cy="196.3" rx="2.5" ry="5" fill="#959595"/><ellipse cx="301.7" cy="261.8" rx="7" ry="12" fill="#9a9a9a"/><ellipse cx="338" cy="240" rx="5" ry="12" fill="#989898"/><ellipse cx="330.5" cy="301.5" rx="5" ry="5.5" fill="#989898"/><ellipse cx="211" cy="240.7" rx="5.5" ry="5.5" fill="#959595"/><ellipse cx="241.7" cy="208.8" rx="3.5" ry="3.5" fill="#9f9f9f"/><ellipse cx="229.2" cy="224.4" rx="3" ry="3" fill="#9a9a9a"/><ellipse cx="239.3" cy="225.9" rx="3.5" ry="3.5" fill="#9f9f9f"/><ellipse cx="272.8" cy="240" rx="4" ry="4" fill="#a4a4a4"/><ellipse cx="229.2" cy="261.8" rx="4" ry="4" fill="#9d9d9d"/><ellipse cx="288.4" cy="285.2" rx="5" ry="5" fill="#959595"/><ellipse cx="319.6" cy="229" rx="4" ry="4" fill="#9d9d9d"/><ellipse cx="314.9" cy="171.4" rx="3" ry="3" fill="#9a9a9a"/><ellipse cx="280.6" cy="163.6" rx="3" ry="3" fill="#959595"/><ellipse cx="325.8" cy="174.5" rx="3" ry="3" fill="#959595"/><ellipse cx="338.3" cy="280.5" rx="3" ry="3" fill="#9a9a9a"/><ellipse cx="280.6" cy="297.6" rx="4" ry="4" fill="#9a9a9a"/><ellipse cx="297.8" cy="291.4" rx="3" ry="3" fill="#959595"/><ellipse cx="255.7" cy="233.7" rx="3" ry="3" fill="#959595"/><ellipse cx="219.8" cy="269.6" rx="3" ry="3" fill="#959595"/><ellipse cx="310.3" cy="261.8" rx="3" ry="3" fill="#959595"/><ellipse cx="392" cy="227" rx="7" ry="7" fill="#989898"/><ellipse cx="446" cy="231" rx="12" ry="7" fill="#989898"/><ellipse cx="350" cy="276.6" rx="9" ry="10" fill="#9d9d9d"/><ellipse cx="422" cy="269" rx="10" ry="4" fill="#939393"/><ellipse cx="441.7" cy="288" rx="6" ry="5" fill="#939393"/><ellipse cx="394" cy="276.6" rx="5" ry="4" fill="#989898"/><ellipse cx="482" cy="199" rx="5" ry="7" fill="#939393"/><ellipse cx="483" cy="263" rx="4" ry="8" fill="#8e8e8e"/><ellipse cx="382.5" cy="168.2" rx="3.5" ry="3.5" fill="#9d9d9d"/><ellipse cx="438.7" cy="176" rx="4" ry="4" fill="#9d9d9d"/><ellipse cx="452.7" cy="177.6" rx="3" ry="3" fill="#9a9a9a"/><ellipse cx="423" cy="194.7" rx="3" ry="3" fill="#959595"/><ellipse cx="421.5" cy="227.5" rx="4" ry="4" fill="#959595"/><ellipse cx="473" cy="239.2" rx="4" ry="4" fill="#9f9f9f"/><ellipse cx="430.9" cy="244.6" rx="4" ry="4" fill="#9d9d9d"/><ellipse cx="376.3" cy="263.3" rx="4" ry="4" fill="#9a9a9a"/><ellipse cx="370" cy="294.5" rx="4" ry="4" fill="#9f9f9f"/><ellipse cx="357.6" cy="297.6" rx="3" ry="3" fill="#9a9a9a"/><ellipse cx="382.5" cy="285.2" rx="3" ry="3" fill="#959595"/><ellipse cx="460.5" cy="274.3" rx="4" ry="4" fill="#959595"/><ellipse cx="466.7" cy="300.8" rx="4" ry="4" fill="#9a9a9a"/><ellipse cx="448" cy="297.6" rx="3" ry="3" fill="#959595"/><ellipse cx="434" cy="257" rx="3" ry="3" fill="#959595"/><ellipse cx="449.6" cy="163.6" rx="3" ry="3" fill="#959595"/><ellipse cx="466.7" cy="168.2" rx="3" ry="3" fill="#959595"/><ellipse cx="483.9" cy="174.5" rx="3" ry="3" fill="#959595"/><ellipse cx="77.5" cy="169" rx="3" ry="3" fill="#b4b4b4"/><ellipse cx="116" cy="317.5" rx="8" ry="6" fill="#9a9a9a"/><ellipse cx="140" cy="308" rx="7" ry="4" fill="#959595"/><ellipse cx="147" cy="392" rx="11" ry="10" fill="#9c9c9c"/><ellipse cx="162.5" cy="432" rx="7.5" ry="14" fill="#989898"/><ellipse cx="64.3" cy="319" rx="3.5" ry="5" fill="#8e8e8e"/><ellipse cx="63.6" cy="339.3" rx="3" ry="3.5" fill="#959595"/><ellipse cx="95.5" cy="326.8" rx="4" ry="4" fill="#9f9f9f"/><ellipse cx="133" cy="323.7" rx="4" ry="4" fill="#9a9a9a"/><ellipse cx="182.8" cy="314.4" rx="4" ry="4" fill="#9f9f9f"/><ellipse cx="189.1" cy="311.2" rx="3" ry="3" fill="#9a9a9a"/><ellipse cx="106.5" cy="336.2" rx="3" ry="3" fill="#9a9a9a"/><ellipse cx="106.5" cy="390.7" rx="3.5" ry="3.5" fill="#959595"/><ellipse cx="106.5" cy="376.7" rx="3" ry="3" fill="#959595"/><ellipse cx="83.1" cy="398.5" rx="3.5" ry="3.5" fill="#959595"/><ellipse cx="67.5" cy="412.6" rx="4" ry="4" fill="#959595"/><ellipse cx="123.6" cy="432.8" rx="4" ry="4" fill="#959595"/><ellipse cx="164.1" cy="392.3" rx="3" ry="3" fill="#959595"/><ellipse cx="172" cy="401.7" rx="3" ry="3" fill="#9a9a9a"/><ellipse cx="192.2" cy="425" rx="4" ry="4" fill="#959595"/><ellipse cx="162.6" cy="319" rx="3" ry="3" fill="#959595"/><ellipse cx="281" cy="369.5" rx="9.5" ry="8.5" fill="#989898"/><ellipse cx="248" cy="397" rx="6" ry="13" fill="#959595"/><ellipse cx="295" cy="315" rx="10" ry="7" fill="#989898"/><ellipse cx="318" cy="343" rx="5" ry="5" fill="#9d9d9d"/><ellipse cx="340.5" cy="386" rx="3.5" ry="6" fill="#939393"/><ellipse cx="244.8" cy="350.2" rx="4" ry="4" fill="#9f9f9f"/><ellipse cx="266.6" cy="347.1" rx="3" ry="3" fill="#9a9a9a"/><ellipse cx="276" cy="342.4" rx="3" ry="3" fill="#959595"/><ellipse cx="272" cy="353.3" rx="3" ry="3" fill="#959595"/><ellipse cx="338.3" cy="361.9" rx="4" ry="4" fill="#9f9f9f"/><ellipse cx="324.3" cy="370.5" rx="3.5" ry="3.5" fill="#9a9a9a"/><ellipse cx="228.4" cy="419.6" rx="5" ry="5" fill="#989898"/><ellipse cx="244.8" cy="429.7" rx="4" ry="4" fill="#9a9a9a"/><ellipse cx="255.7" cy="423.5" rx="4" ry="4" fill="#9a9a9a"/><ellipse cx="202.7" cy="415.7" rx="4" ry="4" fill="#9a9a9a"/><ellipse cx="202.7" cy="442.2" rx="4" ry="4" fill="#9a9a9a"/><ellipse cx="276" cy="417.3" rx="3" ry="3" fill="#959595"/><ellipse cx="262" cy="358.8" rx="3" ry="3" fill="#959595"/><ellipse cx="237" cy="370.5" rx="3" ry="3" fill="#959595"/><ellipse cx="205.8" cy="315.9" rx="3" ry="3" fill="#959595"/><ellipse cx="300.9" cy="383" rx="3" ry="3" fill="#959595"/><ellipse cx="407" cy="311.5" rx="9" ry="7" fill="#9d9d9d"/><ellipse cx="431.5" cy="319" rx="7" ry="6" fill="#9a9a9a"/><ellipse cx="397" cy="360" rx="8" ry="7" fill="#9d9d9d"/><ellipse cx="448" cy="354" rx="6.5" ry="5.5" fill="#9a9a9a"/><ellipse cx="434" cy="395" rx="6" ry="11" fill="#a2a2a2"/><ellipse cx="352" cy="387.6" rx="10" ry="8" fill="#989898"/><ellipse cx="462" cy="436" rx="14" ry="9" fill="#959595"/><ellipse cx="354.5" cy="434.4" rx="5" ry="4.5" fill="#c1c1c1"/><ellipse cx="415.3" cy="432.8" rx="5" ry="4.5" fill="#c1c1c1"/><ellipse cx="478" cy="342" rx="7" ry="10" fill="#737373"/><ellipse cx="404" cy="420" rx="6" ry="6" fill="#959595"/><ellipse cx="362" cy="418" rx="11" ry="4" fill="#8e8e8e"/><ellipse cx="421.5" cy="336.2" rx="4" ry="4" fill="#9f9f9f"/><ellipse cx="360.7" cy="319" rx="4" ry="4" fill="#9a9a9a"/><ellipse cx="374.7" cy="326.8" rx="5" ry="5" fill="#989898"/><ellipse cx="359.2" cy="339.3" rx="4" ry="4" fill="#9a9a9a"/><ellipse cx="343.6" cy="350.2" rx="4" ry="4" fill="#959595"/><ellipse cx="357.6" cy="375.2" rx="4" ry="4" fill="#9a9a9a"/><ellipse cx="382.5" cy="406.3" rx="4" ry="4" fill="#9f9f9f"/><ellipse cx="429.3" cy="372" rx="4" ry="4" fill="#9a9a9a"/><ellipse cx="455" cy="386" rx="3.5" ry="3.5" fill="#9f9f9f"/><ellipse cx="446.5" cy="425.8" rx="3.5" ry="3.5" fill="#9a9a9a"/><ellipse cx="483.9" cy="309.7" rx="3" ry="3" fill="#959595"/><ellipse cx="459" cy="328.4" rx="3" ry="3" fill="#959595"/><ellipse cx="393.5" cy="393.9" rx="4" ry="4" fill="#959595"/><ellipse cx="466.7" cy="305" rx="3" ry="3" fill="#959595"/><ellipse cx="138.5" cy="107" rx="9" ry="6" fill="#1f1f1f" opacity="0.9"/><ellipse cx="182" cy="104" rx="18" ry="5" fill="#1f1f1f" opacity="0.9"/><ellipse cx="255.5" cy="48" rx="5" ry="8" fill="#242424" opacity="0.9"/><ellipse cx="306" cy="43.5" rx="26" ry="5.5" fill="#1f1f1f" opacity="0.9"/><ellipse cx="400" cy="45" rx="14" ry="6" fill="#474747" opacity="0.9"/><ellipse cx="93" cy="237" rx="18" ry="6" fill="#1f1f1f" opacity="0.9"/><ellipse cx="143" cy="237.5" rx="13" ry="5.5" fill="#1f1f1f" opacity="0.9"/><ellipse cx="249.5" cy="247.8" rx="11" ry="3.5" fill="#4c4c4c" opacity="0.9"/><ellipse cx="445" cy="207" rx="6.5" ry="5" fill="#1f1f1f" opacity="0.9"/><ellipse cx="471.5" cy="205" rx="6.5" ry="5.5" fill="#1f1f1f" opacity="0.9"/><ellipse cx="291.5" cy="399.5" rx="9.5" ry="5.5" fill="#404040" opacity="0.9"/><ellipse cx="468.3" cy="96.4" rx="6" ry="6" fill="#242424" opacity="0.9"/><ellipse cx="473" cy="369" rx="5" ry="5" fill="#292929" opacity="0.9"/><ellipse cx="375.5" cy="229.8" rx="10" ry="8.5" fill="#454545" opacity="0.9"/><ellipse cx="150" cy="330" rx="12" ry="10" fill="#4c4c4c" opacity="0.9"/><ellipse cx="200" cy="430" rx="12" ry="8" fill="#4c4c4c" opacity="0.9"/><ellipse cx="60" cy="60" rx="5" ry="5" fill="#474747" opacity="0.9"/><ellipse cx="250" cy="80" rx="8" ry="6" fill="#474747" opacity="0.9"/><ellipse cx="95" cy="110" rx="8" ry="6" fill="#4c4c4c" opacity="0.9"/></g></g><g filter="url(#dotf)"><circle cx="157.5" cy="104.2" r="12.325" fill="url(#hdot)"/><circle cx="269.7" cy="46.5" r="11.6" fill="url(#hdot)"/><circle cx="306.4" cy="146.3" r="7.54" fill="url(#hdot)"/><circle cx="120.5" cy="236.8" r="12.325" fill="url(#hdot)"/><circle cx="232" cy="247.4" r="7.25" fill="url(#hdot)"/><circle cx="458.2" cy="208" r="9.424999999999999" fill="url(#hdot)"/><circle cx="309.5" cy="399.3" r="11.309999999999999" fill="url(#hdot)"/></g><g filter="url(#dotf2)"><circle cx="182.1" cy="86.3" r="4.35" fill="url(#hdot)"/><circle cx="329.7" cy="53.5" r="6.09" fill="url(#hdot)"/><circle cx="329.7" cy="104.2" r="4.35" fill="url(#hdot)"/><circle cx="434" cy="108.1" r="4.06" fill="url(#hdot)"/><circle cx="206.6" cy="294.8" r="3.625" fill="url(#hdot)"/><circle cx="140.7" cy="364.2" r="4.64" fill="url(#hdot)"/><circle cx="374" cy="310.5" r="4.06" fill="url(#hdot)"/><radialGradient id="yd0"><stop offset="0" stop-color="#dbdbdb"/><stop offset="0.45" stop-color="#cfcfcf"/><stop offset="0.75" stop-color="#a3a3a3" stop-opacity="0.9"/><stop offset="1" stop-color="#737373" stop-opacity="0"/></radialGradient><circle cx="439.4" cy="62.1" r="4.64" fill="url(#yd0)"/><radialGradient id="yd1"><stop offset="0" stop-color="#e0e0e0"/><stop offset="0.45" stop-color="#d4d4d4"/><stop offset="0.75" stop-color="#a3a3a3" stop-opacity="0.9"/><stop offset="1" stop-color="#737373" stop-opacity="0"/></radialGradient><circle cx="415" cy="255.9" r="4.93" fill="url(#yd1)"/><radialGradient id="yd2"><stop offset="0" stop-color="#cccccc"/><stop offset="0.45" stop-color="#bfbfbf"/><stop offset="0.75" stop-color="#a3a3a3" stop-opacity="0.9"/><stop offset="1" stop-color="#737373" stop-opacity="0"/></radialGradient><circle cx="479.2" cy="369" r="4.06" fill="url(#yd2)"/><radialGradient id="yd3"><stop offset="0" stop-color="#e6e6e6"/><stop offset="0.45" stop-color="#d9d9d9"/><stop offset="0.75" stop-color="#a3a3a3" stop-opacity="0.9"/><stop offset="1" stop-color="#737373" stop-opacity="0"/></radialGradient><circle cx="354.5" cy="434.4" r="6.09" fill="url(#yd3)"/><radialGradient id="yd4"><stop offset="0" stop-color="#e6e6e6"/><stop offset="0.45" stop-color="#d9d9d9"/><stop offset="0.75" stop-color="#a3a3a3" stop-opacity="0.9"/><stop offset="1" stop-color="#737373" stop-opacity="0"/></radialGradient><circle cx="415.3" cy="432.8" r="6.09" fill="url(#yd4)"/><radialGradient id="yd5"><stop offset="0" stop-color="#cccccc"/><stop offset="0.45" stop-color="#bfbfbf"/><stop offset="0.75" stop-color="#a3a3a3" stop-opacity="0.9"/><stop offset="1" stop-color="#737373" stop-opacity="0"/></radialGradient><circle cx="465.2" cy="87.8" r="3.77" fill="url(#yd5)"/><radialGradient id="yd6"><stop offset="0" stop-color="#d6d6d6"/><stop offset="0.45" stop-color="#c9c9c9"/><stop offset="0.75" stop-color="#a3a3a3" stop-opacity="0.9"/><stop offset="1" stop-color="#737373" stop-opacity="0"/></radialGradient><circle cx="410.6" cy="105.7" r="4.06" fill="url(#yd6)"/></g></g><rect x="55.5" y="105.3" width="430.5" height="1.1" fill="#55a8aa"/><text x="55.4" y="104.3" font-family='"Liberation Sans", sans-serif' font-style="italic" font-size="6.8" fill="#e4e4e4">XS1 (line 204)</text>
<g font-family='"Liberation Serif", serif' font-size="11.5" font-weight="bold" fill="#111"><text x="279.8" y="13.7" text-anchor="middle" font-size="9.7">29. 1F:Height</text><text x="55.3" y="464">0</text><text x="98.55" y="464" text-anchor="middle">0,2</text><text x="141.6" y="464" text-anchor="middle">0,4</text><text x="184.65" y="464" text-anchor="middle">0,6</text><text x="227.7" y="464" text-anchor="middle">0,8</text><text x="270.75" y="464" text-anchor="middle">1,0</text><text x="313.8" y="464" text-anchor="middle">1,2</text><text x="356.85" y="464" text-anchor="middle">1,4</text><text x="399.9" y="464" text-anchor="middle">1,6</text><text x="442.95" y="464" text-anchor="middle">1,8</text><text x="480.5" y="464.5" text-anchor="middle" font-size="9">um</text><text transform="translate(49.2,450) rotate(-90)" text-anchor="start">0</text><text transform="translate(49.2,406.7) rotate(-90)" text-anchor="middle">0,2</text><text transform="translate(49.2,363.7) rotate(-90)" text-anchor="middle">0,4</text><text transform="translate(49.2,320.7) rotate(-90)" text-anchor="middle">0,6</text><text transform="translate(49.2,277.7) rotate(-90)" text-anchor="middle">0,8</text><text transform="translate(49.2,234.7) rotate(-90)" text-anchor="middle">1,0</text><text transform="translate(49.2,191.7) rotate(-90)" text-anchor="middle">1,2</text><text transform="translate(49.2,148.7) rotate(-90)" text-anchor="middle">1,4</text><text transform="translate(49.2,105.7) rotate(-90)" text-anchor="middle">1,6</text><text transform="translate(49.2,62.7) rotate(-90)" text-anchor="middle">1,8</text><text transform="translate(47.2,19) rotate(-90)" text-anchor="end" font-size="9">um</text><text transform="translate(540,449.5) rotate(-90)" text-anchor="start">0</text><text transform="translate(540,361.5) rotate(-90)" text-anchor="middle">0,5</text><text transform="translate(540,273.5) rotate(-90)" text-anchor="middle">1,0</text><text transform="translate(540,184.5) rotate(-90)" text-anchor="middle">1,5</text><text transform="translate(540,97) rotate(-90)" text-anchor="middle">2,0</text><text transform="translate(538,19) rotate(-90)" text-anchor="end" font-size="9">nm</text></g><defs><linearGradient id="cbg" x1="0" y1="1" x2="0" y2="0"><stop offset="0" stop-color="#000"/><stop offset="0.2" stop-color="#170203"/><stop offset="0.33" stop-color="#3e0505"/><stop offset="0.45" stop-color="#620906"/><stop offset="0.53" stop-color="#7c2a0a"/><stop offset="0.62" stop-color="#9a5410"/><stop offset="0.72" stop-color="#b27c20"/><stop offset="0.82" stop-color="#c9a563"/><stop offset="0.91" stop-color="#ddc8a0"/><stop offset="1" stop-color="#fbfaf6"/></linearGradient></defs><rect x="546.6" y="19.6" width="6.8" height="430.4" fill="url(#cbg)" stroke="#111" stroke-width="1.2"/><rect x="547.2" y="307.1" width="5.6" height="1.2" fill="#e8d8d8"/>
<polyline fill="none" stroke="#111" stroke-width="1.35" stroke-linejoin="miter" stroke-miterlimit="1.5" points="733.3,303.9 737,261 740,295 743.7,362 747.6,381 749.8,372 752.7,338 754.2,352 756.9,362 760.4,351 762.6,354.5 764,364.5 767.4,367.7 770.7,392 773,376.6 774.7,386.5 776.3,384 778.5,350 781,328 783.5,294 786,363 789,392 793.9,386.5 797.8,316 800,305 801,306 803.3,296 805.5,328 807,340 810.8,386.5 813.7,392 816,380.5 819.2,404 821,382.7 823,393.7 824.7,394 827,402 828.5,403 830,328 831,262 833.2,240 835.8,131.5 838.9,38.6 842.6,136 844.4,158.6 846.6,165.3 848.2,188 849.8,240 850.9,266.5 853.1,288.5 855.3,321.6 858,365.7 860.2,372.4 862.4,385.6 864.1,394.4 865.9,422 867.4,411 869.6,428.6 872.4,387 874.8,356.4 876.4,407 878.3,414 880.3,401 882.3,409 883.9,430 885.5,439.8 887.1,431 888.9,387 890.9,339.5 892.8,313 894.8,319 896.8,343.5 898.8,387 900.2,419 901.8,428 903.8,409 905.4,401 907.4,400 909.1,396.7 910.7,400 912.7,400.7 914.7,397 916.7,403 918.1,412 920,416 922,375 925.2,343 927.2,344.4 929,361.3 930.6,376.2 932.6,294.8 934.9,310.7 937.3,329.5 939.3,333 941.3,326.6 943.3,317.6 944.9,333 946.9,309.7 948.4,284.8 950.2,302.7 951.8,286.4 953.8,313.6 955.8,334.5 957.8,343 959.8,341.5 961.2,315.6 963.1,304.7 965.1,296.2 966.7,338.5 968.3,307.7 970.3,329.5 973.7,353.4 977.1,388.2 979,359.3 981,319.6 982.5,295.5 984.2,300 985.6,334.3 987.7,341.3 989.8,362.3 991.5,354.6 993.3,353.2 995.1,323.8 996.8,347.6 998.9,356 1000.7,355.3 1002.1,334.6 1004,333.6 1005.9,358.4 1007.7,348.3 1009.4,310.6 1011.5,300 1013.1,283.3 1014.7,301.9 1016.5,272.6 1018.3,271.8 1020.3,187.6 1023.8,163.2 1025.6,199.6 1027.6,270 1029,317.6 1030.6,345.5 1032.6,360.2 1034.3,362.3 1036.4,367.9 1038.1,349.9 1041.5,338.2 1043.6,359.2 1045.6,371.7 1047.5,379.8 1049.3,381 1050.9,385.4 1052.6,374 1054.5,369.8 1056,323.7 1058.1,332.7 1059.6,360.8 1061.5,387.3 1063.4,370.1 1064.9,373.2 1067,362.3 1068.5,356.1 1070.8,372 1073.6,387.3 1075.8,395.8 1077.9,381 1079.4,385.7 1081,364.7 1083,364.7 1084.9,370.4 1086.4,390.4 1088.8,379.5 1090.3,380.7 1091.5,374.7 1093.6,370 1095.6,378.2 1097.6,372.1 1099,388.5 1101,398.8 1102.9,396.6 1104.2,381.6 1106.3,358.4 1108.1,268.4 1109.8,246.1 1111.6,285 1113.4,330 1115.4,357.5 1117.9,379 1120.5,398.4 1122.5,374.3 1124.4,390.2 1126.5,398.4 1127.8,397 1130,370.4 1132.1,345 1134.5,194.8 1136.5,176.5 1137.8,218.5 1140.5,288 1142.4,309 1143.8,311.8 1145.7,325.5 1147.9,313.6 1149.7,311.8 1152.4,318.2 1155.2,307 1156.7,299.3 1158.3,263.3 1160.1,291.7 1162.9,313.5 1164.2,325.1 1165.5,350.9 1169.1,383.7 1171.3,372.8 1172.9,368.9 1174.2,358 1175.8,362.5 1178.1,370.2 1179.6,381.2 1183.5,377.9 1185.4,362.5 1186.7,343.1 1188,341.9 1188.9,341.6"/><path fill="none" stroke="#111" stroke-width="1.35" stroke-linecap="square" d="M733.3 19.35V441.2M733.3 441.2H1190.9M726.6 441.2H733.3M729.3 422.01H733.3M729.3 402.83H733.3M729.3 383.64H733.3M729.3 364.46H733.3M726.6 345.27H733.3M729.3 326.09H733.3M729.3 306.9H733.3M729.3 287.72H733.3M729.3 268.53H733.3M726.6 249.35H733.3M729.3 230.16H733.3M729.3 210.98H733.3M729.3 191.79H733.3M729.3 172.61H733.3M726.6 153.43H733.3M729.3 134.24H733.3M729.3 115.05H733.3M729.3 95.87H733.3M729.3 76.69H733.3M726.6 57.5H733.3M729.3 38.31H733.3M729.3 19.13H733.3M733.3 441.2V448.1M790.5 441.2V445.2M847.7 441.2V448.1M904.9 441.2V445.2M962.1 441.2V448.1M1019.3 441.2V445.2M1076.5 441.2V448.1M1133.7 441.2V445.2M1190.9 441.2V448.1"/><g font-family='"Liberation Sans", sans-serif' font-size="14.6" fill="#111"><text transform="translate(722.2,444.6) scale(0.93,1)" text-anchor="end">0,0</text><text transform="translate(722.2,348.67) scale(0.93,1)" text-anchor="end">0,5</text><text transform="translate(722.2,252.75) scale(0.93,1)" text-anchor="end">1,0</text><text transform="translate(722.2,156.83) scale(0.93,1)" text-anchor="end">1,5</text><text transform="translate(722.2,60.9) scale(0.93,1)" text-anchor="end">2,0</text><text transform="translate(733.1,463.6) scale(0.93,1)" text-anchor="middle">0,0</text><text transform="translate(847.5,463.6) scale(0.93,1)" text-anchor="middle">0,5</text><text transform="translate(961.9,463.6) scale(0.93,1)" text-anchor="middle">1,0</text><text transform="translate(1076.3,463.6) scale(0.93,1)" text-anchor="middle">1,5</text><text transform="translate(1190.7,463.6) scale(0.93,1)" text-anchor="middle">2,0</text></g><text x="950.2" y="490.8" font-family='"Liberation Sans", sans-serif' font-size="16.4" fill="#111">&#956;<tspan font-weight="bold">m</tspan></text><text transform="translate(690.3,241.2) rotate(-90)" text-anchor="middle" font-family='"Liberation Sans", sans-serif' font-size="16.6" font-weight="bold" fill="#111">nm</text>
<polyline fill="none" stroke="#111" stroke-width="2" stroke-linejoin="miter" points="531.6,836.3 560.2,635.2 588.8,672.8 617.6,628 646.4,754 675.2,820.8 732.8,851.2 760.8,858.2 962,858.2"/><path fill="none" stroke="#111" stroke-width="1.5" stroke-linecap="square" d="M359.7 501.02V865.7M359.7 865.7H961.56M351.4 865.7H359.7M354.9 856.58H359.7M354.9 847.47H359.7M354.9 838.35H359.7M354.9 829.23H359.7M351.4 820.12H359.7M354.9 811H359.7M354.9 801.88H359.7M354.9 792.76H359.7M354.9 783.65H359.7M351.4 774.53H359.7M354.9 765.41H359.7M354.9 756.3H359.7M354.9 747.18H359.7M354.9 738.06H359.7M351.4 728.95H359.7M354.9 719.83H359.7M354.9 710.71H359.7M354.9 701.59H359.7M354.9 692.48H359.7M351.4 683.36H359.7M354.9 674.24H359.7M354.9 665.13H359.7M354.9 656.01H359.7M354.9 646.89H359.7M351.4 637.78H359.7M354.9 628.66H359.7M354.9 619.54H359.7M354.9 610.42H359.7M354.9 601.31H359.7M351.4 592.19H359.7M354.9 583.07H359.7M354.9 573.96H359.7M354.9 564.84H359.7M354.9 555.72H359.7M351.4 546.61H359.7M354.9 537.49H359.7M354.9 528.37H359.7M354.9 519.25H359.7M354.9 510.14H359.7M351.4 501.02H359.7M359.7 865.7V874.3M388.36 865.7V870.5M417.02 865.7V870.5M445.68 865.7V870.5M474.34 865.7V870.5M503 865.7V874.3M531.66 865.7V870.5M560.32 865.7V870.5M588.98 865.7V870.5M617.64 865.7V870.5M646.3 865.7V874.3M674.96 865.7V870.5M703.62 865.7V870.5M732.28 865.7V870.5M760.94 865.7V870.5M789.6 865.7V874.3M818.26 865.7V870.5M846.92 865.7V870.5M875.58 865.7V870.5M904.24 865.7V870.5M932.9 865.7V874.3M961.56 865.7V870.5"/><g font-family='"Liberation Sans", sans-serif' font-size="16.6" fill="#111"><text x="345.7" y="869.7" text-anchor="end">0</text><text x="345.7" y="824.12" text-anchor="end">5</text><text x="345.7" y="778.53" text-anchor="end">10</text><text x="345.7" y="732.95" text-anchor="end">15</text><text x="345.7" y="687.36" text-anchor="end">20</text><text x="345.7" y="641.78" text-anchor="end">25</text><text x="345.7" y="596.19" text-anchor="end">30</text><text x="345.7" y="550.61" text-anchor="end">35</text><text x="345.7" y="505.02" text-anchor="end">40</text><text x="359.7" y="892.5" text-anchor="middle">0</text><text x="503" y="892.5" text-anchor="middle">1</text><text x="646.3" y="892.5" text-anchor="middle">2</text><text x="789.6" y="892.5" text-anchor="middle">3</text><text x="932.9" y="892.5" text-anchor="middle">4</text></g><text x="660.6" y="924" text-anchor="middle" font-family='"Liberation Sans", sans-serif' font-size="19.7" font-weight="bold" fill="#111">Height (nm)</text><text transform="translate(311,695.7) rotate(-90)" text-anchor="middle" font-family='"Liberation Sans", sans-serif' font-size="20.3" font-weight="bold" fill="#111">Relative content (%)</text>
<g font-family='"Liberation Sans", sans-serif' font-size="33" font-weight="bold" fill="#000"><text transform="translate(0.3,35.7) scale(0.9,1.02)">a</text><text x="670.5" y="43.6">b</text><text x="258.5" y="510.2">c</text></g>
</svg>
</body></html>
